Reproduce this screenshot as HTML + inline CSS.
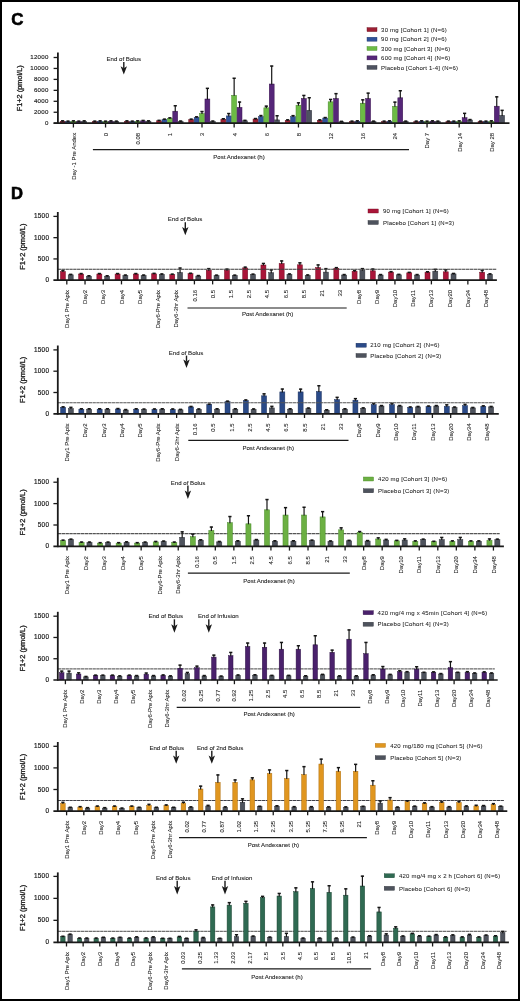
<!DOCTYPE html>
<html><head><meta charset="utf-8"><title>F1+2 charts</title>
<style>html,body{margin:0;padding:0;background:#fff;}#wrap{position:relative;width:520px;height:1001px;overflow:hidden;background:#fff;}svg{position:absolute;left:0;top:0;display:block;filter:blur(0.3px);}text{font-family:"Liberation Sans", sans-serif;stroke:#222;stroke-width:0.08px;}</style></head><body><div id="wrap">
<svg width="520" height="1001" viewBox="0 0 520 1001" font-family='"Liberation Sans", sans-serif'>
<rect x="0" y="0" width="520" height="1001" fill="#fff"/>
<text x="11.3" y="25.3" font-size="16.9" text-anchor="start" font-weight="bold" fill="#000" style="stroke:#000;stroke-width:0.55px">C</text>
<line x1="57.9" y1="52.5" x2="57.9" y2="124" stroke="#1a1a1a" stroke-width="1.8"/>
<line x1="53.6" y1="123.2" x2="57.9" y2="123.2" stroke="#1a1a1a" stroke-width="1.3"/>
<text x="48.7" y="124.9" font-size="6.1" text-anchor="end" fill="#1a1a1a" letter-spacing="0.3" style="stroke-width:0.15px">0</text>
<line x1="53.6" y1="112.25" x2="57.9" y2="112.25" stroke="#1a1a1a" stroke-width="1.3"/>
<text x="48.7" y="113.95" font-size="6.1" text-anchor="end" fill="#1a1a1a" letter-spacing="0.3" style="stroke-width:0.15px">2000</text>
<line x1="53.6" y1="101.3" x2="57.9" y2="101.3" stroke="#1a1a1a" stroke-width="1.3"/>
<text x="48.7" y="103" font-size="6.1" text-anchor="end" fill="#1a1a1a" letter-spacing="0.3" style="stroke-width:0.15px">4000</text>
<line x1="53.6" y1="90.35" x2="57.9" y2="90.35" stroke="#1a1a1a" stroke-width="1.3"/>
<text x="48.7" y="92.05" font-size="6.1" text-anchor="end" fill="#1a1a1a" letter-spacing="0.3" style="stroke-width:0.15px">6000</text>
<line x1="53.6" y1="79.4" x2="57.9" y2="79.4" stroke="#1a1a1a" stroke-width="1.3"/>
<text x="48.7" y="81.1" font-size="6.1" text-anchor="end" fill="#1a1a1a" letter-spacing="0.3" style="stroke-width:0.15px">8000</text>
<line x1="53.6" y1="68.45" x2="57.9" y2="68.45" stroke="#1a1a1a" stroke-width="1.3"/>
<text x="48.7" y="70.15" font-size="6.1" text-anchor="end" fill="#1a1a1a" letter-spacing="0.3" style="stroke-width:0.15px">10000</text>
<line x1="53.6" y1="57.5" x2="57.9" y2="57.5" stroke="#1a1a1a" stroke-width="1.3"/>
<text x="48.7" y="59.2" font-size="6.1" text-anchor="end" fill="#1a1a1a" letter-spacing="0.3" style="stroke-width:0.15px">12000</text>
<text x="22.3" y="88.3" font-size="7.35" text-anchor="middle" transform="rotate(-90 22.3 88.3)" fill="#1a1a1a" style="stroke-width:0.3px">F1+2 (pmol/L)</text>
<rect x="60.15" y="121.3" width="4.9" height="1.9" fill="#9d1f33" stroke="#6a1020" stroke-width="0.5"/>
<rect x="65.55" y="121.6" width="4.9" height="1.6" fill="#30529a" stroke="#22386a" stroke-width="0.5"/>
<rect x="70.95" y="121.3" width="4.9" height="1.9" fill="#6cbb45" stroke="#4a8a2c" stroke-width="0.5"/>
<rect x="76.35" y="121.6" width="4.9" height="1.6" fill="#562679" stroke="#3a144f" stroke-width="0.5"/>
<rect x="81.75" y="121.3" width="4.9" height="1.9" fill="#4e5260" stroke="#33363f" stroke-width="0.5"/>
<line x1="62.6" y1="121.8" x2="62.6" y2="120.5" stroke="#151515" stroke-width="1.2"/>
<rect x="61" y="120.1" width="3.2" height="1.5" fill="#151515"/>
<line x1="68" y1="122.1" x2="68" y2="120.8" stroke="#151515" stroke-width="1.2"/>
<rect x="66.4" y="120.4" width="3.2" height="1.5" fill="#151515"/>
<line x1="73.4" y1="121.8" x2="73.4" y2="120.5" stroke="#151515" stroke-width="1.2"/>
<rect x="71.8" y="120.1" width="3.2" height="1.5" fill="#151515"/>
<line x1="78.8" y1="122.1" x2="78.8" y2="120.8" stroke="#151515" stroke-width="1.2"/>
<rect x="77.2" y="120.4" width="3.2" height="1.5" fill="#151515"/>
<line x1="84.2" y1="121.8" x2="84.2" y2="120.5" stroke="#151515" stroke-width="1.2"/>
<rect x="82.6" y="120.1" width="3.2" height="1.5" fill="#151515"/>
<rect x="92.3" y="121.6" width="4.9" height="1.6" fill="#9d1f33" stroke="#6a1020" stroke-width="0.5"/>
<rect x="97.7" y="121.3" width="4.9" height="1.9" fill="#30529a" stroke="#22386a" stroke-width="0.5"/>
<rect x="103.1" y="121.6" width="4.9" height="1.6" fill="#6cbb45" stroke="#4a8a2c" stroke-width="0.5"/>
<rect x="108.5" y="121.3" width="4.9" height="1.9" fill="#562679" stroke="#3a144f" stroke-width="0.5"/>
<rect x="113.9" y="121.6" width="4.9" height="1.6" fill="#4e5260" stroke="#33363f" stroke-width="0.5"/>
<line x1="94.75" y1="122.1" x2="94.75" y2="120.8" stroke="#151515" stroke-width="1.2"/>
<rect x="93.15" y="120.4" width="3.2" height="1.5" fill="#151515"/>
<line x1="100.15" y1="121.8" x2="100.15" y2="120.5" stroke="#151515" stroke-width="1.2"/>
<rect x="98.55" y="120.1" width="3.2" height="1.5" fill="#151515"/>
<line x1="105.55" y1="122.1" x2="105.55" y2="120.8" stroke="#151515" stroke-width="1.2"/>
<rect x="103.95" y="120.4" width="3.2" height="1.5" fill="#151515"/>
<line x1="110.95" y1="121.8" x2="110.95" y2="120.5" stroke="#151515" stroke-width="1.2"/>
<rect x="109.35" y="120.1" width="3.2" height="1.5" fill="#151515"/>
<line x1="116.35" y1="122.1" x2="116.35" y2="120.8" stroke="#151515" stroke-width="1.2"/>
<rect x="114.75" y="120.4" width="3.2" height="1.5" fill="#151515"/>
<rect x="124.45" y="121.3" width="4.9" height="1.9" fill="#9d1f33" stroke="#6a1020" stroke-width="0.5"/>
<rect x="129.85" y="121.6" width="4.9" height="1.6" fill="#30529a" stroke="#22386a" stroke-width="0.5"/>
<rect x="135.25" y="121.3" width="4.9" height="1.9" fill="#6cbb45" stroke="#4a8a2c" stroke-width="0.5"/>
<rect x="140.65" y="120.9" width="4.9" height="2.3" fill="#562679" stroke="#3a144f" stroke-width="0.5"/>
<rect x="146.05" y="121.3" width="4.9" height="1.9" fill="#4e5260" stroke="#33363f" stroke-width="0.5"/>
<line x1="126.9" y1="121.8" x2="126.9" y2="120.5" stroke="#151515" stroke-width="1.2"/>
<rect x="125.3" y="120.1" width="3.2" height="1.5" fill="#151515"/>
<line x1="132.3" y1="122.1" x2="132.3" y2="120.8" stroke="#151515" stroke-width="1.2"/>
<rect x="130.7" y="120.4" width="3.2" height="1.5" fill="#151515"/>
<line x1="137.7" y1="121.8" x2="137.7" y2="120.5" stroke="#151515" stroke-width="1.2"/>
<rect x="136.1" y="120.1" width="3.2" height="1.5" fill="#151515"/>
<line x1="143.1" y1="121.4" x2="143.1" y2="120.1" stroke="#151515" stroke-width="1.2"/>
<rect x="141.5" y="119.7" width="3.2" height="1.5" fill="#151515"/>
<line x1="148.5" y1="121.8" x2="148.5" y2="120.5" stroke="#151515" stroke-width="1.2"/>
<rect x="146.9" y="120.1" width="3.2" height="1.5" fill="#151515"/>
<rect x="156.6" y="120.8" width="4.9" height="2.4" fill="#9d1f33" stroke="#6a1020" stroke-width="0.5"/>
<rect x="162" y="119.6" width="4.9" height="3.6" fill="#30529a" stroke="#22386a" stroke-width="0.5"/>
<rect x="167.4" y="118.3" width="4.9" height="4.9" fill="#6cbb45" stroke="#4a8a2c" stroke-width="0.5"/>
<rect x="172.8" y="111.2" width="4.9" height="12" fill="#562679" stroke="#3a144f" stroke-width="0.5"/>
<rect x="178.2" y="121.5" width="4.9" height="1.7" fill="#4e5260" stroke="#33363f" stroke-width="0.5"/>
<line x1="159.05" y1="121.3" x2="159.05" y2="120" stroke="#151515" stroke-width="1.2"/>
<rect x="157.45" y="119.6" width="3.2" height="1.5" fill="#151515"/>
<line x1="164.45" y1="120.1" x2="164.45" y2="118.8" stroke="#151515" stroke-width="1.2"/>
<rect x="162.85" y="118.4" width="3.2" height="1.5" fill="#151515"/>
<line x1="169.85" y1="118.8" x2="169.85" y2="117.5" stroke="#151515" stroke-width="1.2"/>
<rect x="168.25" y="117.1" width="3.2" height="1.5" fill="#151515"/>
<line x1="175.25" y1="111.7" x2="175.25" y2="105.4" stroke="#151515" stroke-width="1.2"/>
<rect x="173.65" y="105" width="3.2" height="1.5" fill="#151515"/>
<line x1="180.65" y1="122" x2="180.65" y2="120.7" stroke="#151515" stroke-width="1.2"/>
<rect x="179.05" y="120.3" width="3.2" height="1.5" fill="#151515"/>
<rect x="188.75" y="119.6" width="4.9" height="3.6" fill="#9d1f33" stroke="#6a1020" stroke-width="0.5"/>
<rect x="194.15" y="117.3" width="4.9" height="5.9" fill="#30529a" stroke="#22386a" stroke-width="0.5"/>
<rect x="199.55" y="113.5" width="4.9" height="9.7" fill="#6cbb45" stroke="#4a8a2c" stroke-width="0.5"/>
<rect x="204.95" y="99" width="4.9" height="24.2" fill="#562679" stroke="#3a144f" stroke-width="0.5"/>
<rect x="210.35" y="121.5" width="4.9" height="1.7" fill="#4e5260" stroke="#33363f" stroke-width="0.5"/>
<line x1="191.2" y1="120.1" x2="191.2" y2="118.8" stroke="#151515" stroke-width="1.2"/>
<rect x="189.6" y="118.4" width="3.2" height="1.5" fill="#151515"/>
<line x1="196.6" y1="117.8" x2="196.6" y2="116.5" stroke="#151515" stroke-width="1.2"/>
<rect x="195" y="116.1" width="3.2" height="1.5" fill="#151515"/>
<line x1="202" y1="114" x2="202" y2="111.2" stroke="#151515" stroke-width="1.2"/>
<rect x="200.4" y="110.8" width="3.2" height="1.5" fill="#151515"/>
<line x1="207.4" y1="99.5" x2="207.4" y2="88" stroke="#151515" stroke-width="1.2"/>
<rect x="205.8" y="87.6" width="3.2" height="1.5" fill="#151515"/>
<line x1="212.8" y1="122" x2="212.8" y2="120.7" stroke="#151515" stroke-width="1.2"/>
<rect x="211.2" y="120.3" width="3.2" height="1.5" fill="#151515"/>
<rect x="220.9" y="119.2" width="4.9" height="4" fill="#9d1f33" stroke="#6a1020" stroke-width="0.5"/>
<rect x="226.3" y="115.9" width="4.9" height="7.3" fill="#30529a" stroke="#22386a" stroke-width="0.5"/>
<rect x="231.7" y="95.3" width="4.9" height="27.9" fill="#6cbb45" stroke="#4a8a2c" stroke-width="0.5"/>
<rect x="237.1" y="107.4" width="4.9" height="15.8" fill="#562679" stroke="#3a144f" stroke-width="0.5"/>
<rect x="242.5" y="120.8" width="4.9" height="2.4" fill="#4e5260" stroke="#33363f" stroke-width="0.5"/>
<line x1="223.35" y1="119.7" x2="223.35" y2="118.4" stroke="#151515" stroke-width="1.2"/>
<rect x="221.75" y="118" width="3.2" height="1.5" fill="#151515"/>
<line x1="228.75" y1="116.4" x2="228.75" y2="113.2" stroke="#151515" stroke-width="1.2"/>
<rect x="227.15" y="112.8" width="3.2" height="1.5" fill="#151515"/>
<line x1="234.15" y1="95.8" x2="234.15" y2="77.9" stroke="#151515" stroke-width="1.2"/>
<rect x="232.55" y="77.5" width="3.2" height="1.5" fill="#151515"/>
<line x1="239.55" y1="107.9" x2="239.55" y2="101.7" stroke="#151515" stroke-width="1.2"/>
<rect x="237.95" y="101.3" width="3.2" height="1.5" fill="#151515"/>
<line x1="244.95" y1="121.3" x2="244.95" y2="120" stroke="#151515" stroke-width="1.2"/>
<rect x="243.35" y="119.6" width="3.2" height="1.5" fill="#151515"/>
<rect x="253.05" y="119" width="4.9" height="4.2" fill="#9d1f33" stroke="#6a1020" stroke-width="0.5"/>
<rect x="258.45" y="116.5" width="4.9" height="6.7" fill="#30529a" stroke="#22386a" stroke-width="0.5"/>
<rect x="263.85" y="107.8" width="4.9" height="15.4" fill="#6cbb45" stroke="#4a8a2c" stroke-width="0.5"/>
<rect x="269.25" y="84" width="4.9" height="39.2" fill="#562679" stroke="#3a144f" stroke-width="0.5"/>
<rect x="274.65" y="119.9" width="4.9" height="3.3" fill="#4e5260" stroke="#33363f" stroke-width="0.5"/>
<line x1="255.5" y1="119.5" x2="255.5" y2="118.2" stroke="#151515" stroke-width="1.2"/>
<rect x="253.9" y="117.8" width="3.2" height="1.5" fill="#151515"/>
<line x1="260.9" y1="117" x2="260.9" y2="115.2" stroke="#151515" stroke-width="1.2"/>
<rect x="259.3" y="114.8" width="3.2" height="1.5" fill="#151515"/>
<line x1="266.3" y1="108.3" x2="266.3" y2="105.8" stroke="#151515" stroke-width="1.2"/>
<rect x="264.7" y="105.4" width="3.2" height="1.5" fill="#151515"/>
<line x1="271.7" y1="84.5" x2="271.7" y2="65.7" stroke="#151515" stroke-width="1.2"/>
<rect x="270.1" y="65.3" width="3.2" height="1.5" fill="#151515"/>
<line x1="277.1" y1="120.4" x2="277.1" y2="115.4" stroke="#151515" stroke-width="1.2"/>
<rect x="275.5" y="115" width="3.2" height="1.5" fill="#151515"/>
<rect x="285.2" y="120.3" width="4.9" height="2.9" fill="#9d1f33" stroke="#6a1020" stroke-width="0.5"/>
<rect x="290.6" y="116.6" width="4.9" height="6.6" fill="#30529a" stroke="#22386a" stroke-width="0.5"/>
<rect x="296" y="105.2" width="4.9" height="18" fill="#6cbb45" stroke="#4a8a2c" stroke-width="0.5"/>
<rect x="301.4" y="98.5" width="4.9" height="24.7" fill="#562679" stroke="#3a144f" stroke-width="0.5"/>
<rect x="306.8" y="110.3" width="4.9" height="12.9" fill="#4e5260" stroke="#33363f" stroke-width="0.5"/>
<line x1="287.65" y1="120.8" x2="287.65" y2="119.5" stroke="#151515" stroke-width="1.2"/>
<rect x="286.05" y="119.1" width="3.2" height="1.5" fill="#151515"/>
<line x1="293.05" y1="117.1" x2="293.05" y2="115.3" stroke="#151515" stroke-width="1.2"/>
<rect x="291.45" y="114.9" width="3.2" height="1.5" fill="#151515"/>
<line x1="298.45" y1="105.7" x2="298.45" y2="102.5" stroke="#151515" stroke-width="1.2"/>
<rect x="296.85" y="102.1" width="3.2" height="1.5" fill="#151515"/>
<line x1="303.85" y1="99" x2="303.85" y2="95.1" stroke="#151515" stroke-width="1.2"/>
<rect x="302.25" y="94.7" width="3.2" height="1.5" fill="#151515"/>
<line x1="309.25" y1="110.8" x2="309.25" y2="97.4" stroke="#151515" stroke-width="1.2"/>
<rect x="307.65" y="97" width="3.2" height="1.5" fill="#151515"/>
<rect x="317.35" y="120.3" width="4.9" height="2.9" fill="#9d1f33" stroke="#6a1020" stroke-width="0.5"/>
<rect x="322.75" y="118" width="4.9" height="5.2" fill="#30529a" stroke="#22386a" stroke-width="0.5"/>
<rect x="328.15" y="101.8" width="4.9" height="21.4" fill="#6cbb45" stroke="#4a8a2c" stroke-width="0.5"/>
<rect x="333.55" y="98.5" width="4.9" height="24.7" fill="#562679" stroke="#3a144f" stroke-width="0.5"/>
<rect x="338.95" y="121.8" width="4.9" height="1.4" fill="#4e5260" stroke="#33363f" stroke-width="0.5"/>
<line x1="319.8" y1="120.8" x2="319.8" y2="119.5" stroke="#151515" stroke-width="1.2"/>
<rect x="318.2" y="119.1" width="3.2" height="1.5" fill="#151515"/>
<line x1="325.2" y1="118.5" x2="325.2" y2="117.2" stroke="#151515" stroke-width="1.2"/>
<rect x="323.6" y="116.8" width="3.2" height="1.5" fill="#151515"/>
<line x1="330.6" y1="102.3" x2="330.6" y2="99.1" stroke="#151515" stroke-width="1.2"/>
<rect x="329" y="98.7" width="3.2" height="1.5" fill="#151515"/>
<line x1="336" y1="99" x2="336" y2="93.3" stroke="#151515" stroke-width="1.2"/>
<rect x="334.4" y="92.9" width="3.2" height="1.5" fill="#151515"/>
<line x1="341.4" y1="122.3" x2="341.4" y2="121" stroke="#151515" stroke-width="1.2"/>
<rect x="339.8" y="120.6" width="3.2" height="1.5" fill="#151515"/>
<rect x="349.5" y="121.6" width="4.9" height="1.6" fill="#9d1f33" stroke="#6a1020" stroke-width="0.5"/>
<rect x="354.9" y="121.3" width="4.9" height="1.9" fill="#30529a" stroke="#22386a" stroke-width="0.5"/>
<rect x="360.3" y="103.2" width="4.9" height="20" fill="#6cbb45" stroke="#4a8a2c" stroke-width="0.5"/>
<rect x="365.7" y="98.5" width="4.9" height="24.7" fill="#562679" stroke="#3a144f" stroke-width="0.5"/>
<rect x="371.1" y="121.6" width="4.9" height="1.6" fill="#4e5260" stroke="#33363f" stroke-width="0.5"/>
<line x1="351.95" y1="122.1" x2="351.95" y2="120.8" stroke="#151515" stroke-width="1.2"/>
<rect x="350.35" y="120.4" width="3.2" height="1.5" fill="#151515"/>
<line x1="357.35" y1="121.8" x2="357.35" y2="120.5" stroke="#151515" stroke-width="1.2"/>
<rect x="355.75" y="120.1" width="3.2" height="1.5" fill="#151515"/>
<line x1="362.75" y1="103.7" x2="362.75" y2="99.5" stroke="#151515" stroke-width="1.2"/>
<rect x="361.15" y="99.1" width="3.2" height="1.5" fill="#151515"/>
<line x1="368.15" y1="99" x2="368.15" y2="92.8" stroke="#151515" stroke-width="1.2"/>
<rect x="366.55" y="92.4" width="3.2" height="1.5" fill="#151515"/>
<line x1="373.55" y1="122.1" x2="373.55" y2="120.8" stroke="#151515" stroke-width="1.2"/>
<rect x="371.95" y="120.4" width="3.2" height="1.5" fill="#151515"/>
<rect x="381.65" y="121.6" width="4.9" height="1.6" fill="#9d1f33" stroke="#6a1020" stroke-width="0.5"/>
<rect x="387.05" y="121.3" width="4.9" height="1.9" fill="#30529a" stroke="#22386a" stroke-width="0.5"/>
<rect x="392.45" y="106.3" width="4.9" height="16.9" fill="#6cbb45" stroke="#4a8a2c" stroke-width="0.5"/>
<rect x="397.85" y="97.8" width="4.9" height="25.4" fill="#562679" stroke="#3a144f" stroke-width="0.5"/>
<rect x="403.25" y="121.6" width="4.9" height="1.6" fill="#4e5260" stroke="#33363f" stroke-width="0.5"/>
<line x1="384.1" y1="122.1" x2="384.1" y2="120.8" stroke="#151515" stroke-width="1.2"/>
<rect x="382.5" y="120.4" width="3.2" height="1.5" fill="#151515"/>
<line x1="389.5" y1="121.8" x2="389.5" y2="120.5" stroke="#151515" stroke-width="1.2"/>
<rect x="387.9" y="120.1" width="3.2" height="1.5" fill="#151515"/>
<line x1="394.9" y1="106.8" x2="394.9" y2="101.8" stroke="#151515" stroke-width="1.2"/>
<rect x="393.3" y="101.4" width="3.2" height="1.5" fill="#151515"/>
<line x1="400.3" y1="98.3" x2="400.3" y2="90.4" stroke="#151515" stroke-width="1.2"/>
<rect x="398.7" y="90" width="3.2" height="1.5" fill="#151515"/>
<line x1="405.7" y1="122.1" x2="405.7" y2="120.8" stroke="#151515" stroke-width="1.2"/>
<rect x="404.1" y="120.4" width="3.2" height="1.5" fill="#151515"/>
<rect x="413.8" y="121.6" width="4.9" height="1.6" fill="#9d1f33" stroke="#6a1020" stroke-width="0.5"/>
<rect x="419.2" y="121.3" width="4.9" height="1.9" fill="#30529a" stroke="#22386a" stroke-width="0.5"/>
<rect x="424.6" y="121.6" width="4.9" height="1.6" fill="#6cbb45" stroke="#4a8a2c" stroke-width="0.5"/>
<rect x="430" y="121.3" width="4.9" height="1.9" fill="#562679" stroke="#3a144f" stroke-width="0.5"/>
<rect x="435.4" y="121.6" width="4.9" height="1.6" fill="#4e5260" stroke="#33363f" stroke-width="0.5"/>
<line x1="416.25" y1="122.1" x2="416.25" y2="120.8" stroke="#151515" stroke-width="1.2"/>
<rect x="414.65" y="120.4" width="3.2" height="1.5" fill="#151515"/>
<line x1="421.65" y1="121.8" x2="421.65" y2="120.5" stroke="#151515" stroke-width="1.2"/>
<rect x="420.05" y="120.1" width="3.2" height="1.5" fill="#151515"/>
<line x1="427.05" y1="122.1" x2="427.05" y2="120.8" stroke="#151515" stroke-width="1.2"/>
<rect x="425.45" y="120.4" width="3.2" height="1.5" fill="#151515"/>
<line x1="432.45" y1="121.8" x2="432.45" y2="120.5" stroke="#151515" stroke-width="1.2"/>
<rect x="430.85" y="120.1" width="3.2" height="1.5" fill="#151515"/>
<line x1="437.85" y1="122.1" x2="437.85" y2="120.8" stroke="#151515" stroke-width="1.2"/>
<rect x="436.25" y="120.4" width="3.2" height="1.5" fill="#151515"/>
<rect x="445.95" y="121.6" width="4.9" height="1.6" fill="#9d1f33" stroke="#6a1020" stroke-width="0.5"/>
<rect x="451.35" y="121.6" width="4.9" height="1.6" fill="#30529a" stroke="#22386a" stroke-width="0.5"/>
<rect x="456.75" y="121.3" width="4.9" height="1.9" fill="#6cbb45" stroke="#4a8a2c" stroke-width="0.5"/>
<rect x="462.15" y="117.7" width="4.9" height="5.5" fill="#562679" stroke="#3a144f" stroke-width="0.5"/>
<rect x="467.55" y="120" width="4.9" height="3.2" fill="#4e5260" stroke="#33363f" stroke-width="0.5"/>
<line x1="448.4" y1="122.1" x2="448.4" y2="120.8" stroke="#151515" stroke-width="1.2"/>
<rect x="446.8" y="120.4" width="3.2" height="1.5" fill="#151515"/>
<line x1="453.8" y1="122.1" x2="453.8" y2="120.8" stroke="#151515" stroke-width="1.2"/>
<rect x="452.2" y="120.4" width="3.2" height="1.5" fill="#151515"/>
<line x1="459.2" y1="121.8" x2="459.2" y2="120.5" stroke="#151515" stroke-width="1.2"/>
<rect x="457.6" y="120.1" width="3.2" height="1.5" fill="#151515"/>
<line x1="464.6" y1="118.2" x2="464.6" y2="113" stroke="#151515" stroke-width="1.2"/>
<rect x="463" y="112.6" width="3.2" height="1.5" fill="#151515"/>
<line x1="470" y1="120.5" x2="470" y2="119.2" stroke="#151515" stroke-width="1.2"/>
<rect x="468.4" y="118.8" width="3.2" height="1.5" fill="#151515"/>
<rect x="478.1" y="121.6" width="4.9" height="1.6" fill="#9d1f33" stroke="#6a1020" stroke-width="0.5"/>
<rect x="483.5" y="121.6" width="4.9" height="1.6" fill="#30529a" stroke="#22386a" stroke-width="0.5"/>
<rect x="488.9" y="121.3" width="4.9" height="1.9" fill="#6cbb45" stroke="#4a8a2c" stroke-width="0.5"/>
<rect x="494.3" y="106.2" width="4.9" height="17" fill="#562679" stroke="#3a144f" stroke-width="0.5"/>
<rect x="499.7" y="115.4" width="4.9" height="7.8" fill="#4e5260" stroke="#33363f" stroke-width="0.5"/>
<line x1="480.55" y1="122.1" x2="480.55" y2="120.8" stroke="#151515" stroke-width="1.2"/>
<rect x="478.95" y="120.4" width="3.2" height="1.5" fill="#151515"/>
<line x1="485.95" y1="122.1" x2="485.95" y2="120.8" stroke="#151515" stroke-width="1.2"/>
<rect x="484.35" y="120.4" width="3.2" height="1.5" fill="#151515"/>
<line x1="491.35" y1="121.8" x2="491.35" y2="120.5" stroke="#151515" stroke-width="1.2"/>
<rect x="489.75" y="120.1" width="3.2" height="1.5" fill="#151515"/>
<line x1="496.75" y1="106.7" x2="496.75" y2="96.5" stroke="#151515" stroke-width="1.2"/>
<rect x="495.15" y="96.1" width="3.2" height="1.5" fill="#151515"/>
<line x1="502.15" y1="115.9" x2="502.15" y2="110" stroke="#151515" stroke-width="1.2"/>
<rect x="500.55" y="109.6" width="3.2" height="1.5" fill="#151515"/>
<line x1="53.6" y1="123.2" x2="509.5" y2="123.2" stroke="#1a1a1a" stroke-width="1.7"/>
<line x1="73.4" y1="123.2" x2="73.4" y2="127.5" stroke="#1a1a1a" stroke-width="1.3"/>
<text x="75.8" y="132.8" font-size="6" text-anchor="end" transform="rotate(-90 75.8 132.8)" fill="#1a1a1a">Day -1 Pre Andex</text>
<line x1="105.55" y1="123.2" x2="105.55" y2="127.5" stroke="#1a1a1a" stroke-width="1.3"/>
<text x="107.95" y="132.8" font-size="6" text-anchor="end" transform="rotate(-90 107.95 132.8)" fill="#1a1a1a">0</text>
<line x1="137.7" y1="123.2" x2="137.7" y2="127.5" stroke="#1a1a1a" stroke-width="1.3"/>
<text x="140.1" y="132.8" font-size="6" text-anchor="end" transform="rotate(-90 140.1 132.8)" fill="#1a1a1a">0.08</text>
<line x1="169.85" y1="123.2" x2="169.85" y2="127.5" stroke="#1a1a1a" stroke-width="1.3"/>
<text x="172.25" y="132.8" font-size="6" text-anchor="end" transform="rotate(-90 172.25 132.8)" fill="#1a1a1a">1</text>
<line x1="202" y1="123.2" x2="202" y2="127.5" stroke="#1a1a1a" stroke-width="1.3"/>
<text x="204.4" y="132.8" font-size="6" text-anchor="end" transform="rotate(-90 204.4 132.8)" fill="#1a1a1a">3</text>
<line x1="234.15" y1="123.2" x2="234.15" y2="127.5" stroke="#1a1a1a" stroke-width="1.3"/>
<text x="236.55" y="132.8" font-size="6" text-anchor="end" transform="rotate(-90 236.55 132.8)" fill="#1a1a1a">4</text>
<line x1="266.3" y1="123.2" x2="266.3" y2="127.5" stroke="#1a1a1a" stroke-width="1.3"/>
<text x="268.7" y="132.8" font-size="6" text-anchor="end" transform="rotate(-90 268.7 132.8)" fill="#1a1a1a">6</text>
<line x1="298.45" y1="123.2" x2="298.45" y2="127.5" stroke="#1a1a1a" stroke-width="1.3"/>
<text x="300.85" y="132.8" font-size="6" text-anchor="end" transform="rotate(-90 300.85 132.8)" fill="#1a1a1a">8</text>
<line x1="330.6" y1="123.2" x2="330.6" y2="127.5" stroke="#1a1a1a" stroke-width="1.3"/>
<text x="333" y="132.8" font-size="6" text-anchor="end" transform="rotate(-90 333 132.8)" fill="#1a1a1a">12</text>
<line x1="362.75" y1="123.2" x2="362.75" y2="127.5" stroke="#1a1a1a" stroke-width="1.3"/>
<text x="365.15" y="132.8" font-size="6" text-anchor="end" transform="rotate(-90 365.15 132.8)" fill="#1a1a1a">16</text>
<line x1="394.9" y1="123.2" x2="394.9" y2="127.5" stroke="#1a1a1a" stroke-width="1.3"/>
<text x="397.3" y="132.8" font-size="6" text-anchor="end" transform="rotate(-90 397.3 132.8)" fill="#1a1a1a">24</text>
<line x1="427.05" y1="123.2" x2="427.05" y2="127.5" stroke="#1a1a1a" stroke-width="1.3"/>
<text x="429.45" y="132.8" font-size="6" text-anchor="end" transform="rotate(-90 429.45 132.8)" fill="#1a1a1a">Day 7</text>
<line x1="459.2" y1="123.2" x2="459.2" y2="127.5" stroke="#1a1a1a" stroke-width="1.3"/>
<text x="461.6" y="132.8" font-size="6" text-anchor="end" transform="rotate(-90 461.6 132.8)" fill="#1a1a1a">Day 14</text>
<line x1="491.35" y1="123.2" x2="491.35" y2="127.5" stroke="#1a1a1a" stroke-width="1.3"/>
<text x="493.75" y="132.8" font-size="6" text-anchor="end" transform="rotate(-90 493.75 132.8)" fill="#1a1a1a">Day 28</text>
<line x1="92.9" y1="149.6" x2="409" y2="149.6" stroke="#1a1a1a" stroke-width="1.2"/>
<text x="239" y="159" font-size="6.05" text-anchor="middle" fill="#1a1a1a">Post Andexanet (h)</text>
<text x="106.5" y="60.6" font-size="6.1" text-anchor="start" fill="#1a1a1a">End of Bolus</text>
<line x1="123.8" y1="62" x2="123.8" y2="68.2" stroke="#1a1a1a" stroke-width="1.4"/>
<path d="M120.6 66.2 L123.8 68.2 L127 66.2 L123.8 74.6 Z" fill="#1a1a1a"/>
<rect x="367" y="27.6" width="10" height="4" fill="#9d1f33" stroke="#6a1020" stroke-width="0.4"/>
<text x="381.1" y="31.8" font-size="6" text-anchor="start" fill="#1a1a1a" letter-spacing="0.2" style="stroke-width:0.05px">30 mg [Cohort 1] (N=6)</text>
<rect x="367" y="37.2" width="10" height="4" fill="#30529a" stroke="#22386a" stroke-width="0.4"/>
<text x="381.1" y="41.4" font-size="6" text-anchor="start" fill="#1a1a1a" letter-spacing="0.2" style="stroke-width:0.05px">90 mg [Cohort 2] (N=6)</text>
<rect x="367" y="46.5" width="10" height="4" fill="#6cbb45" stroke="#4a8a2c" stroke-width="0.4"/>
<text x="381.1" y="50.7" font-size="6" text-anchor="start" fill="#1a1a1a" letter-spacing="0.2" style="stroke-width:0.05px">300 mg [Cohort 3] (N=6)</text>
<rect x="367" y="55.9" width="10" height="4" fill="#562679" stroke="#3a144f" stroke-width="0.4"/>
<text x="381.1" y="60.1" font-size="6" text-anchor="start" fill="#1a1a1a" letter-spacing="0.2" style="stroke-width:0.05px">600 mg [Cohort 4] (N=6)</text>
<rect x="367" y="65.4" width="10" height="4" fill="#4e5260" stroke="#33363f" stroke-width="0.4"/>
<text x="381.1" y="69.6" font-size="6" text-anchor="start" fill="#1a1a1a" letter-spacing="0.2" style="stroke-width:0.05px">Placebo [Cohort 1-4] (N=6)</text>
<text x="11.1" y="198.8" font-size="16.6" text-anchor="start" font-weight="bold" fill="#000" style="stroke:#000;stroke-width:0.6px">D</text>
<rect x="60.4" y="271.5" width="5" height="8.7" fill="#aa1539" stroke="#700c22" stroke-width="0.5"/>
<line x1="62.9" y1="272" x2="62.9" y2="270.2" stroke="#151515" stroke-width="1.2"/>
<rect x="61.3" y="269.8" width="3.2" height="1.5" fill="#151515"/>
<rect x="68.2" y="274.8" width="5" height="5.4" fill="#4e535d" stroke="#30333a" stroke-width="0.5"/>
<line x1="70.7" y1="275.3" x2="70.7" y2="274" stroke="#151515" stroke-width="1.2"/>
<rect x="69.1" y="273.6" width="3.2" height="1.5" fill="#151515"/>
<rect x="78.63" y="274" width="5" height="6.2" fill="#aa1539" stroke="#700c22" stroke-width="0.5"/>
<line x1="81.13" y1="274.5" x2="81.13" y2="273.2" stroke="#151515" stroke-width="1.2"/>
<rect x="79.53" y="272.8" width="3.2" height="1.5" fill="#151515"/>
<rect x="86.43" y="276.2" width="5" height="4" fill="#4e535d" stroke="#30333a" stroke-width="0.5"/>
<line x1="88.93" y1="276.7" x2="88.93" y2="275.4" stroke="#151515" stroke-width="1.2"/>
<rect x="87.33" y="275" width="3.2" height="1.5" fill="#151515"/>
<rect x="96.86" y="274" width="5" height="6.2" fill="#aa1539" stroke="#700c22" stroke-width="0.5"/>
<line x1="99.36" y1="274.5" x2="99.36" y2="273.2" stroke="#151515" stroke-width="1.2"/>
<rect x="97.76" y="272.8" width="3.2" height="1.5" fill="#151515"/>
<rect x="104.66" y="276.2" width="5" height="4" fill="#4e535d" stroke="#30333a" stroke-width="0.5"/>
<line x1="107.16" y1="276.7" x2="107.16" y2="275.4" stroke="#151515" stroke-width="1.2"/>
<rect x="105.56" y="275" width="3.2" height="1.5" fill="#151515"/>
<rect x="115.09" y="274" width="5" height="6.2" fill="#aa1539" stroke="#700c22" stroke-width="0.5"/>
<line x1="117.59" y1="274.5" x2="117.59" y2="273.2" stroke="#151515" stroke-width="1.2"/>
<rect x="115.99" y="272.8" width="3.2" height="1.5" fill="#151515"/>
<rect x="122.89" y="275.5" width="5" height="4.7" fill="#4e535d" stroke="#30333a" stroke-width="0.5"/>
<line x1="125.39" y1="276" x2="125.39" y2="274.7" stroke="#151515" stroke-width="1.2"/>
<rect x="123.79" y="274.3" width="3.2" height="1.5" fill="#151515"/>
<rect x="133.32" y="274" width="5" height="6.2" fill="#aa1539" stroke="#700c22" stroke-width="0.5"/>
<line x1="135.82" y1="274.5" x2="135.82" y2="273.2" stroke="#151515" stroke-width="1.2"/>
<rect x="134.22" y="272.8" width="3.2" height="1.5" fill="#151515"/>
<rect x="141.12" y="275.5" width="5" height="4.7" fill="#4e535d" stroke="#30333a" stroke-width="0.5"/>
<line x1="143.62" y1="276" x2="143.62" y2="274.7" stroke="#151515" stroke-width="1.2"/>
<rect x="142.02" y="274.3" width="3.2" height="1.5" fill="#151515"/>
<rect x="151.55" y="273.8" width="5" height="6.4" fill="#aa1539" stroke="#700c22" stroke-width="0.5"/>
<line x1="154.05" y1="274.3" x2="154.05" y2="273" stroke="#151515" stroke-width="1.2"/>
<rect x="152.45" y="272.6" width="3.2" height="1.5" fill="#151515"/>
<rect x="159.35" y="274.4" width="5" height="5.8" fill="#4e535d" stroke="#30333a" stroke-width="0.5"/>
<line x1="161.85" y1="274.9" x2="161.85" y2="273.6" stroke="#151515" stroke-width="1.2"/>
<rect x="160.25" y="273.2" width="3.2" height="1.5" fill="#151515"/>
<rect x="169.78" y="274.6" width="5" height="5.6" fill="#aa1539" stroke="#700c22" stroke-width="0.5"/>
<line x1="172.28" y1="275.1" x2="172.28" y2="273.8" stroke="#151515" stroke-width="1.2"/>
<rect x="170.68" y="273.4" width="3.2" height="1.5" fill="#151515"/>
<rect x="177.58" y="272.5" width="5" height="7.7" fill="#4e535d" stroke="#30333a" stroke-width="0.5"/>
<line x1="180.08" y1="273" x2="180.08" y2="267.7" stroke="#151515" stroke-width="1.2"/>
<rect x="178.48" y="267.3" width="3.2" height="1.5" fill="#151515"/>
<rect x="188.01" y="273.7" width="5" height="6.5" fill="#aa1539" stroke="#700c22" stroke-width="0.5"/>
<line x1="190.51" y1="274.2" x2="190.51" y2="272.9" stroke="#151515" stroke-width="1.2"/>
<rect x="188.91" y="272.5" width="3.2" height="1.5" fill="#151515"/>
<rect x="195.81" y="276" width="5" height="4.2" fill="#4e535d" stroke="#30333a" stroke-width="0.5"/>
<line x1="198.31" y1="276.5" x2="198.31" y2="275.2" stroke="#151515" stroke-width="1.2"/>
<rect x="196.71" y="274.8" width="3.2" height="1.5" fill="#151515"/>
<rect x="206.24" y="270.2" width="5" height="10" fill="#aa1539" stroke="#700c22" stroke-width="0.5"/>
<line x1="208.74" y1="270.7" x2="208.74" y2="268.3" stroke="#151515" stroke-width="1.2"/>
<rect x="207.14" y="267.9" width="3.2" height="1.5" fill="#151515"/>
<rect x="214.04" y="275.6" width="5" height="4.6" fill="#4e535d" stroke="#30333a" stroke-width="0.5"/>
<line x1="216.54" y1="276.1" x2="216.54" y2="274.8" stroke="#151515" stroke-width="1.2"/>
<rect x="214.94" y="274.4" width="3.2" height="1.5" fill="#151515"/>
<rect x="224.47" y="270.2" width="5" height="10" fill="#aa1539" stroke="#700c22" stroke-width="0.5"/>
<line x1="226.97" y1="270.7" x2="226.97" y2="268.8" stroke="#151515" stroke-width="1.2"/>
<rect x="225.37" y="268.4" width="3.2" height="1.5" fill="#151515"/>
<rect x="232.27" y="275.6" width="5" height="4.6" fill="#4e535d" stroke="#30333a" stroke-width="0.5"/>
<line x1="234.77" y1="276.1" x2="234.77" y2="274.8" stroke="#151515" stroke-width="1.2"/>
<rect x="233.17" y="274.4" width="3.2" height="1.5" fill="#151515"/>
<rect x="242.7" y="267.9" width="5" height="12.3" fill="#aa1539" stroke="#700c22" stroke-width="0.5"/>
<line x1="245.2" y1="268.4" x2="245.2" y2="266.8" stroke="#151515" stroke-width="1.2"/>
<rect x="243.6" y="266.4" width="3.2" height="1.5" fill="#151515"/>
<rect x="250.5" y="274.6" width="5" height="5.6" fill="#4e535d" stroke="#30333a" stroke-width="0.5"/>
<line x1="253" y1="275.1" x2="253" y2="273.8" stroke="#151515" stroke-width="1.2"/>
<rect x="251.4" y="273.4" width="3.2" height="1.5" fill="#151515"/>
<rect x="260.93" y="265" width="5" height="15.2" fill="#aa1539" stroke="#700c22" stroke-width="0.5"/>
<line x1="263.43" y1="265.5" x2="263.43" y2="263.1" stroke="#151515" stroke-width="1.2"/>
<rect x="261.83" y="262.7" width="3.2" height="1.5" fill="#151515"/>
<rect x="268.73" y="272.7" width="5" height="7.5" fill="#4e535d" stroke="#30333a" stroke-width="0.5"/>
<line x1="271.23" y1="273.2" x2="271.23" y2="269.6" stroke="#151515" stroke-width="1.2"/>
<rect x="269.63" y="269.2" width="3.2" height="1.5" fill="#151515"/>
<rect x="279.16" y="263.5" width="5" height="16.7" fill="#aa1539" stroke="#700c22" stroke-width="0.5"/>
<line x1="281.66" y1="264" x2="281.66" y2="260.6" stroke="#151515" stroke-width="1.2"/>
<rect x="280.06" y="260.2" width="3.2" height="1.5" fill="#151515"/>
<rect x="286.96" y="274.4" width="5" height="5.8" fill="#4e535d" stroke="#30333a" stroke-width="0.5"/>
<line x1="289.46" y1="274.9" x2="289.46" y2="273.6" stroke="#151515" stroke-width="1.2"/>
<rect x="287.86" y="273.2" width="3.2" height="1.5" fill="#151515"/>
<rect x="297.39" y="264.8" width="5" height="15.4" fill="#aa1539" stroke="#700c22" stroke-width="0.5"/>
<line x1="299.89" y1="265.3" x2="299.89" y2="262.5" stroke="#151515" stroke-width="1.2"/>
<rect x="298.29" y="262.1" width="3.2" height="1.5" fill="#151515"/>
<rect x="305.19" y="275.4" width="5" height="4.8" fill="#4e535d" stroke="#30333a" stroke-width="0.5"/>
<line x1="307.69" y1="275.9" x2="307.69" y2="274.6" stroke="#151515" stroke-width="1.2"/>
<rect x="306.09" y="274.2" width="3.2" height="1.5" fill="#151515"/>
<rect x="315.62" y="267.5" width="5" height="12.7" fill="#aa1539" stroke="#700c22" stroke-width="0.5"/>
<line x1="318.12" y1="268" x2="318.12" y2="264.6" stroke="#151515" stroke-width="1.2"/>
<rect x="316.52" y="264.2" width="3.2" height="1.5" fill="#151515"/>
<rect x="323.42" y="272.1" width="5" height="8.1" fill="#4e535d" stroke="#30333a" stroke-width="0.5"/>
<line x1="325.92" y1="272.6" x2="325.92" y2="268.3" stroke="#151515" stroke-width="1.2"/>
<rect x="324.32" y="267.9" width="3.2" height="1.5" fill="#151515"/>
<rect x="333.85" y="268.3" width="5" height="11.9" fill="#aa1539" stroke="#700c22" stroke-width="0.5"/>
<line x1="336.35" y1="268.8" x2="336.35" y2="267.3" stroke="#151515" stroke-width="1.2"/>
<rect x="334.75" y="266.9" width="3.2" height="1.5" fill="#151515"/>
<rect x="341.65" y="275" width="5" height="5.2" fill="#4e535d" stroke="#30333a" stroke-width="0.5"/>
<line x1="344.15" y1="275.5" x2="344.15" y2="274.2" stroke="#151515" stroke-width="1.2"/>
<rect x="342.55" y="273.8" width="3.2" height="1.5" fill="#151515"/>
<rect x="352.08" y="271.2" width="5" height="9" fill="#aa1539" stroke="#700c22" stroke-width="0.5"/>
<line x1="354.58" y1="271.7" x2="354.58" y2="270.2" stroke="#151515" stroke-width="1.2"/>
<rect x="352.98" y="269.8" width="3.2" height="1.5" fill="#151515"/>
<rect x="359.88" y="270.2" width="5" height="10" fill="#4e535d" stroke="#30333a" stroke-width="0.5"/>
<line x1="362.38" y1="270.7" x2="362.38" y2="268.3" stroke="#151515" stroke-width="1.2"/>
<rect x="360.78" y="267.9" width="3.2" height="1.5" fill="#151515"/>
<rect x="370.31" y="270.8" width="5" height="9.4" fill="#aa1539" stroke="#700c22" stroke-width="0.5"/>
<line x1="372.81" y1="271.3" x2="372.81" y2="268.7" stroke="#151515" stroke-width="1.2"/>
<rect x="371.21" y="268.3" width="3.2" height="1.5" fill="#151515"/>
<rect x="378.11" y="275" width="5" height="5.2" fill="#4e535d" stroke="#30333a" stroke-width="0.5"/>
<line x1="380.61" y1="275.5" x2="380.61" y2="274.2" stroke="#151515" stroke-width="1.2"/>
<rect x="379.01" y="273.8" width="3.2" height="1.5" fill="#151515"/>
<rect x="388.54" y="272.1" width="5" height="8.1" fill="#aa1539" stroke="#700c22" stroke-width="0.5"/>
<line x1="391.04" y1="272.6" x2="391.04" y2="271.3" stroke="#151515" stroke-width="1.2"/>
<rect x="389.44" y="270.9" width="3.2" height="1.5" fill="#151515"/>
<rect x="396.34" y="274.8" width="5" height="5.4" fill="#4e535d" stroke="#30333a" stroke-width="0.5"/>
<line x1="398.84" y1="275.3" x2="398.84" y2="274" stroke="#151515" stroke-width="1.2"/>
<rect x="397.24" y="273.6" width="3.2" height="1.5" fill="#151515"/>
<rect x="406.77" y="272.8" width="5" height="7.4" fill="#aa1539" stroke="#700c22" stroke-width="0.5"/>
<line x1="409.27" y1="273.3" x2="409.27" y2="272" stroke="#151515" stroke-width="1.2"/>
<rect x="407.67" y="271.6" width="3.2" height="1.5" fill="#151515"/>
<rect x="414.57" y="275" width="5" height="5.2" fill="#4e535d" stroke="#30333a" stroke-width="0.5"/>
<line x1="417.07" y1="275.5" x2="417.07" y2="274.2" stroke="#151515" stroke-width="1.2"/>
<rect x="415.47" y="273.8" width="3.2" height="1.5" fill="#151515"/>
<rect x="425" y="272.2" width="5" height="8" fill="#aa1539" stroke="#700c22" stroke-width="0.5"/>
<line x1="427.5" y1="272.7" x2="427.5" y2="271.4" stroke="#151515" stroke-width="1.2"/>
<rect x="425.9" y="271" width="3.2" height="1.5" fill="#151515"/>
<rect x="432.8" y="271.2" width="5" height="9" fill="#4e535d" stroke="#30333a" stroke-width="0.5"/>
<line x1="435.3" y1="271.7" x2="435.3" y2="269" stroke="#151515" stroke-width="1.2"/>
<rect x="433.7" y="268.6" width="3.2" height="1.5" fill="#151515"/>
<rect x="443.23" y="271.8" width="5" height="8.4" fill="#aa1539" stroke="#700c22" stroke-width="0.5"/>
<line x1="445.73" y1="272.3" x2="445.73" y2="269.5" stroke="#151515" stroke-width="1.2"/>
<rect x="444.13" y="269.1" width="3.2" height="1.5" fill="#151515"/>
<rect x="451.03" y="273.9" width="5" height="6.3" fill="#4e535d" stroke="#30333a" stroke-width="0.5"/>
<line x1="453.53" y1="274.4" x2="453.53" y2="273.1" stroke="#151515" stroke-width="1.2"/>
<rect x="451.93" y="272.7" width="3.2" height="1.5" fill="#151515"/>
<rect x="479.69" y="272.2" width="5" height="8" fill="#aa1539" stroke="#700c22" stroke-width="0.5"/>
<line x1="482.19" y1="272.7" x2="482.19" y2="270.1" stroke="#151515" stroke-width="1.2"/>
<rect x="480.59" y="269.7" width="3.2" height="1.5" fill="#151515"/>
<rect x="487.49" y="274.3" width="5" height="5.9" fill="#4e535d" stroke="#30333a" stroke-width="0.5"/>
<line x1="489.99" y1="274.8" x2="489.99" y2="273.5" stroke="#151515" stroke-width="1.2"/>
<rect x="488.39" y="273.1" width="3.2" height="1.5" fill="#151515"/>
<line x1="57.8" y1="269.3" x2="496.5" y2="269.3" stroke="#3a3a3a" stroke-width="1.1" stroke-dasharray="3.4,0.45"/>
<line x1="57.8" y1="212" x2="57.8" y2="281" stroke="#1a1a1a" stroke-width="1.8"/>
<line x1="53.4" y1="258.93" x2="57.8" y2="258.93" stroke="#1a1a1a" stroke-width="1.3"/>
<line x1="53.4" y1="237.67" x2="57.8" y2="237.67" stroke="#1a1a1a" stroke-width="1.3"/>
<line x1="53.4" y1="216.4" x2="57.8" y2="216.4" stroke="#1a1a1a" stroke-width="1.3"/>
<text x="49.2" y="282.2" font-size="6.35" text-anchor="end" fill="#1a1a1a" letter-spacing="0.25" style="stroke-width:0.2px">0</text>
<text x="49.2" y="260.93" font-size="6.35" text-anchor="end" fill="#1a1a1a" letter-spacing="0.25" style="stroke-width:0.2px">500</text>
<text x="49.2" y="239.67" font-size="6.35" text-anchor="end" fill="#1a1a1a" letter-spacing="0.25" style="stroke-width:0.2px">1000</text>
<text x="49.2" y="218.4" font-size="6.35" text-anchor="end" fill="#1a1a1a" letter-spacing="0.25" style="stroke-width:0.2px">1500</text>
<line x1="53.4" y1="280.2" x2="496.9" y2="280.2" stroke="#1a1a1a" stroke-width="1.7"/>
<line x1="66.8" y1="280.2" x2="66.8" y2="284.4" stroke="#1a1a1a" stroke-width="1.3"/>
<text x="68.9" y="289.9" font-size="6" text-anchor="end" transform="rotate(-90 68.9 289.9)" fill="#1a1a1a">Day1 Pre Apix</text>
<line x1="85.03" y1="280.2" x2="85.03" y2="284.4" stroke="#1a1a1a" stroke-width="1.3"/>
<text x="87.13" y="289.9" font-size="6" text-anchor="end" transform="rotate(-90 87.13 289.9)" fill="#1a1a1a">Day2</text>
<line x1="103.26" y1="280.2" x2="103.26" y2="284.4" stroke="#1a1a1a" stroke-width="1.3"/>
<text x="105.36" y="289.9" font-size="6" text-anchor="end" transform="rotate(-90 105.36 289.9)" fill="#1a1a1a">Day3</text>
<line x1="121.49" y1="280.2" x2="121.49" y2="284.4" stroke="#1a1a1a" stroke-width="1.3"/>
<text x="123.59" y="289.9" font-size="6" text-anchor="end" transform="rotate(-90 123.59 289.9)" fill="#1a1a1a">Day4</text>
<line x1="139.72" y1="280.2" x2="139.72" y2="284.4" stroke="#1a1a1a" stroke-width="1.3"/>
<text x="141.82" y="289.9" font-size="6" text-anchor="end" transform="rotate(-90 141.82 289.9)" fill="#1a1a1a">Day5</text>
<line x1="157.95" y1="280.2" x2="157.95" y2="284.4" stroke="#1a1a1a" stroke-width="1.3"/>
<text x="160.05" y="289.9" font-size="6" text-anchor="end" transform="rotate(-90 160.05 289.9)" fill="#1a1a1a">Day6-Pre Apix</text>
<line x1="176.18" y1="280.2" x2="176.18" y2="284.4" stroke="#1a1a1a" stroke-width="1.3"/>
<text x="178.28" y="289.9" font-size="6" text-anchor="end" transform="rotate(-90 178.28 289.9)" fill="#1a1a1a">Day6-3hr Apix</text>
<line x1="194.41" y1="280.2" x2="194.41" y2="284.4" stroke="#1a1a1a" stroke-width="1.3"/>
<text x="196.51" y="289.9" font-size="6" text-anchor="end" transform="rotate(-90 196.51 289.9)" fill="#1a1a1a">0.16</text>
<line x1="212.64" y1="280.2" x2="212.64" y2="284.4" stroke="#1a1a1a" stroke-width="1.3"/>
<text x="214.74" y="289.9" font-size="6" text-anchor="end" transform="rotate(-90 214.74 289.9)" fill="#1a1a1a">0.5</text>
<line x1="230.87" y1="280.2" x2="230.87" y2="284.4" stroke="#1a1a1a" stroke-width="1.3"/>
<text x="232.97" y="289.9" font-size="6" text-anchor="end" transform="rotate(-90 232.97 289.9)" fill="#1a1a1a">1.5</text>
<line x1="249.1" y1="280.2" x2="249.1" y2="284.4" stroke="#1a1a1a" stroke-width="1.3"/>
<text x="251.2" y="289.9" font-size="6" text-anchor="end" transform="rotate(-90 251.2 289.9)" fill="#1a1a1a">2.5</text>
<line x1="267.33" y1="280.2" x2="267.33" y2="284.4" stroke="#1a1a1a" stroke-width="1.3"/>
<text x="269.43" y="289.9" font-size="6" text-anchor="end" transform="rotate(-90 269.43 289.9)" fill="#1a1a1a">4.5</text>
<line x1="285.56" y1="280.2" x2="285.56" y2="284.4" stroke="#1a1a1a" stroke-width="1.3"/>
<text x="287.66" y="289.9" font-size="6" text-anchor="end" transform="rotate(-90 287.66 289.9)" fill="#1a1a1a">6.5</text>
<line x1="303.79" y1="280.2" x2="303.79" y2="284.4" stroke="#1a1a1a" stroke-width="1.3"/>
<text x="305.89" y="289.9" font-size="6" text-anchor="end" transform="rotate(-90 305.89 289.9)" fill="#1a1a1a">8.5</text>
<line x1="322.02" y1="280.2" x2="322.02" y2="284.4" stroke="#1a1a1a" stroke-width="1.3"/>
<text x="324.12" y="289.9" font-size="6" text-anchor="end" transform="rotate(-90 324.12 289.9)" fill="#1a1a1a">21</text>
<line x1="340.25" y1="280.2" x2="340.25" y2="284.4" stroke="#1a1a1a" stroke-width="1.3"/>
<text x="342.35" y="289.9" font-size="6" text-anchor="end" transform="rotate(-90 342.35 289.9)" fill="#1a1a1a">33</text>
<line x1="358.48" y1="280.2" x2="358.48" y2="284.4" stroke="#1a1a1a" stroke-width="1.3"/>
<text x="360.58" y="289.9" font-size="6" text-anchor="end" transform="rotate(-90 360.58 289.9)" fill="#1a1a1a">Day8</text>
<line x1="376.71" y1="280.2" x2="376.71" y2="284.4" stroke="#1a1a1a" stroke-width="1.3"/>
<text x="378.81" y="289.9" font-size="6" text-anchor="end" transform="rotate(-90 378.81 289.9)" fill="#1a1a1a">Day9</text>
<line x1="394.94" y1="280.2" x2="394.94" y2="284.4" stroke="#1a1a1a" stroke-width="1.3"/>
<text x="397.04" y="289.9" font-size="6" text-anchor="end" transform="rotate(-90 397.04 289.9)" fill="#1a1a1a">Day10</text>
<line x1="413.17" y1="280.2" x2="413.17" y2="284.4" stroke="#1a1a1a" stroke-width="1.3"/>
<text x="415.27" y="289.9" font-size="6" text-anchor="end" transform="rotate(-90 415.27 289.9)" fill="#1a1a1a">Day11</text>
<line x1="431.4" y1="280.2" x2="431.4" y2="284.4" stroke="#1a1a1a" stroke-width="1.3"/>
<text x="433.5" y="289.9" font-size="6" text-anchor="end" transform="rotate(-90 433.5 289.9)" fill="#1a1a1a">Day13</text>
<line x1="449.63" y1="280.2" x2="449.63" y2="284.4" stroke="#1a1a1a" stroke-width="1.3"/>
<text x="451.73" y="289.9" font-size="6" text-anchor="end" transform="rotate(-90 451.73 289.9)" fill="#1a1a1a">Day20</text>
<line x1="467.86" y1="280.2" x2="467.86" y2="284.4" stroke="#1a1a1a" stroke-width="1.3"/>
<text x="469.96" y="289.9" font-size="6" text-anchor="end" transform="rotate(-90 469.96 289.9)" fill="#1a1a1a">Day34</text>
<line x1="486.09" y1="280.2" x2="486.09" y2="284.4" stroke="#1a1a1a" stroke-width="1.3"/>
<text x="488.19" y="289.9" font-size="6" text-anchor="end" transform="rotate(-90 488.19 289.9)" fill="#1a1a1a">Day48</text>
<text x="25.3" y="246.7" font-size="7.4" text-anchor="middle" transform="rotate(-90 25.3 246.7)" fill="#1a1a1a" style="stroke-width:0.3px">F1+2 (pmol/L)</text>
<line x1="187.5" y1="308" x2="346.7" y2="308" stroke="#1a1a1a" stroke-width="1.2"/>
<text x="267.6" y="316.3" font-size="6.05" text-anchor="middle" fill="#1a1a1a">Post Andexanet (h)</text>
<text x="167.8" y="221.2" font-size="6.1" text-anchor="start" fill="#1a1a1a">End of Bolus</text>
<line x1="185.3" y1="222.2" x2="185.3" y2="228.9" stroke="#1a1a1a" stroke-width="1.4"/>
<path d="M182.1 226.9 L185.3 228.9 L188.5 226.9 L185.3 235.3 Z" fill="#1a1a1a"/>
<rect x="368" y="209" width="10.3" height="4" fill="#aa1539" stroke="#700c22" stroke-width="0.4"/>
<text x="383" y="213.2" font-size="6" text-anchor="start" fill="#1a1a1a" letter-spacing="0.2" style="stroke-width:0.05px">90 mg [Cohort 1] (N=6)</text>
<rect x="368" y="220.5" width="10.3" height="4" fill="#4e535d" stroke="#30333a" stroke-width="0.4"/>
<text x="383" y="224.7" font-size="6" text-anchor="start" fill="#1a1a1a" letter-spacing="0.2" style="stroke-width:0.05px">Placebo [Cohort 1] (N=3)</text>
<rect x="60.6" y="407.3" width="5" height="6.5" fill="#2a4a88" stroke="#1a2f5c" stroke-width="0.5"/>
<line x1="63.1" y1="407.8" x2="63.1" y2="406.5" stroke="#151515" stroke-width="1.2"/>
<rect x="61.5" y="406.1" width="3.2" height="1.5" fill="#151515"/>
<rect x="68.4" y="408.5" width="5" height="5.3" fill="#4e535d" stroke="#30333a" stroke-width="0.5"/>
<line x1="70.9" y1="409" x2="70.9" y2="407" stroke="#151515" stroke-width="1.2"/>
<rect x="69.3" y="406.6" width="3.2" height="1.5" fill="#151515"/>
<rect x="78.87" y="409.2" width="5" height="4.6" fill="#2a4a88" stroke="#1a2f5c" stroke-width="0.5"/>
<line x1="81.37" y1="409.7" x2="81.37" y2="408.4" stroke="#151515" stroke-width="1.2"/>
<rect x="79.77" y="408" width="3.2" height="1.5" fill="#151515"/>
<rect x="86.67" y="409.2" width="5" height="4.6" fill="#4e535d" stroke="#30333a" stroke-width="0.5"/>
<line x1="89.17" y1="409.7" x2="89.17" y2="408.4" stroke="#151515" stroke-width="1.2"/>
<rect x="87.57" y="408" width="3.2" height="1.5" fill="#151515"/>
<rect x="97.14" y="409.2" width="5" height="4.6" fill="#2a4a88" stroke="#1a2f5c" stroke-width="0.5"/>
<line x1="99.64" y1="409.7" x2="99.64" y2="408.4" stroke="#151515" stroke-width="1.2"/>
<rect x="98.04" y="408" width="3.2" height="1.5" fill="#151515"/>
<rect x="104.94" y="409.2" width="5" height="4.6" fill="#4e535d" stroke="#30333a" stroke-width="0.5"/>
<line x1="107.44" y1="409.7" x2="107.44" y2="408.4" stroke="#151515" stroke-width="1.2"/>
<rect x="105.84" y="408" width="3.2" height="1.5" fill="#151515"/>
<rect x="115.41" y="409" width="5" height="4.8" fill="#2a4a88" stroke="#1a2f5c" stroke-width="0.5"/>
<line x1="117.91" y1="409.5" x2="117.91" y2="408.2" stroke="#151515" stroke-width="1.2"/>
<rect x="116.31" y="407.8" width="3.2" height="1.5" fill="#151515"/>
<rect x="123.21" y="410" width="5" height="3.8" fill="#4e535d" stroke="#30333a" stroke-width="0.5"/>
<line x1="125.71" y1="410.5" x2="125.71" y2="409.2" stroke="#151515" stroke-width="1.2"/>
<rect x="124.11" y="408.8" width="3.2" height="1.5" fill="#151515"/>
<rect x="133.68" y="409.2" width="5" height="4.6" fill="#2a4a88" stroke="#1a2f5c" stroke-width="0.5"/>
<line x1="136.18" y1="409.7" x2="136.18" y2="408.4" stroke="#151515" stroke-width="1.2"/>
<rect x="134.58" y="408" width="3.2" height="1.5" fill="#151515"/>
<rect x="141.48" y="409.5" width="5" height="4.3" fill="#4e535d" stroke="#30333a" stroke-width="0.5"/>
<line x1="143.98" y1="410" x2="143.98" y2="408.7" stroke="#151515" stroke-width="1.2"/>
<rect x="142.38" y="408.3" width="3.2" height="1.5" fill="#151515"/>
<rect x="151.95" y="409.4" width="5" height="4.4" fill="#2a4a88" stroke="#1a2f5c" stroke-width="0.5"/>
<line x1="154.45" y1="409.9" x2="154.45" y2="408.6" stroke="#151515" stroke-width="1.2"/>
<rect x="152.85" y="408.2" width="3.2" height="1.5" fill="#151515"/>
<rect x="159.75" y="409.2" width="5" height="4.6" fill="#4e535d" stroke="#30333a" stroke-width="0.5"/>
<line x1="162.25" y1="409.7" x2="162.25" y2="408.4" stroke="#151515" stroke-width="1.2"/>
<rect x="160.65" y="408" width="3.2" height="1.5" fill="#151515"/>
<rect x="170.22" y="409.4" width="5" height="4.4" fill="#2a4a88" stroke="#1a2f5c" stroke-width="0.5"/>
<line x1="172.72" y1="409.9" x2="172.72" y2="408.6" stroke="#151515" stroke-width="1.2"/>
<rect x="171.12" y="408.2" width="3.2" height="1.5" fill="#151515"/>
<rect x="178.02" y="409.8" width="5" height="4" fill="#4e535d" stroke="#30333a" stroke-width="0.5"/>
<line x1="180.52" y1="410.3" x2="180.52" y2="409" stroke="#151515" stroke-width="1.2"/>
<rect x="178.92" y="408.6" width="3.2" height="1.5" fill="#151515"/>
<rect x="188.49" y="406.9" width="5" height="6.9" fill="#2a4a88" stroke="#1a2f5c" stroke-width="0.5"/>
<line x1="190.99" y1="407.4" x2="190.99" y2="406.1" stroke="#151515" stroke-width="1.2"/>
<rect x="189.39" y="405.7" width="3.2" height="1.5" fill="#151515"/>
<rect x="196.29" y="409.4" width="5" height="4.4" fill="#4e535d" stroke="#30333a" stroke-width="0.5"/>
<line x1="198.79" y1="409.9" x2="198.79" y2="408.6" stroke="#151515" stroke-width="1.2"/>
<rect x="197.19" y="408.2" width="3.2" height="1.5" fill="#151515"/>
<rect x="206.76" y="404.6" width="5" height="9.2" fill="#2a4a88" stroke="#1a2f5c" stroke-width="0.5"/>
<line x1="209.26" y1="405.1" x2="209.26" y2="403.8" stroke="#151515" stroke-width="1.2"/>
<rect x="207.66" y="403.4" width="3.2" height="1.5" fill="#151515"/>
<rect x="214.56" y="409.2" width="5" height="4.6" fill="#4e535d" stroke="#30333a" stroke-width="0.5"/>
<line x1="217.06" y1="409.7" x2="217.06" y2="408.4" stroke="#151515" stroke-width="1.2"/>
<rect x="215.46" y="408" width="3.2" height="1.5" fill="#151515"/>
<rect x="225.03" y="401.7" width="5" height="12.1" fill="#2a4a88" stroke="#1a2f5c" stroke-width="0.5"/>
<line x1="227.53" y1="402.2" x2="227.53" y2="400.8" stroke="#151515" stroke-width="1.2"/>
<rect x="225.93" y="400.4" width="3.2" height="1.5" fill="#151515"/>
<rect x="232.83" y="409.2" width="5" height="4.6" fill="#4e535d" stroke="#30333a" stroke-width="0.5"/>
<line x1="235.33" y1="409.7" x2="235.33" y2="408.4" stroke="#151515" stroke-width="1.2"/>
<rect x="233.73" y="408" width="3.2" height="1.5" fill="#151515"/>
<rect x="243.3" y="400.6" width="5" height="13.2" fill="#2a4a88" stroke="#1a2f5c" stroke-width="0.5"/>
<line x1="245.8" y1="401.1" x2="245.8" y2="399.6" stroke="#151515" stroke-width="1.2"/>
<rect x="244.2" y="399.2" width="3.2" height="1.5" fill="#151515"/>
<rect x="251.1" y="409.4" width="5" height="4.4" fill="#4e535d" stroke="#30333a" stroke-width="0.5"/>
<line x1="253.6" y1="409.9" x2="253.6" y2="408.6" stroke="#151515" stroke-width="1.2"/>
<rect x="252" y="408.2" width="3.2" height="1.5" fill="#151515"/>
<rect x="261.57" y="395.8" width="5" height="18" fill="#2a4a88" stroke="#1a2f5c" stroke-width="0.5"/>
<line x1="264.07" y1="396.3" x2="264.07" y2="393.5" stroke="#151515" stroke-width="1.2"/>
<rect x="262.47" y="393.1" width="3.2" height="1.5" fill="#151515"/>
<rect x="269.37" y="407.9" width="5" height="5.9" fill="#4e535d" stroke="#30333a" stroke-width="0.5"/>
<line x1="271.87" y1="408.4" x2="271.87" y2="406" stroke="#151515" stroke-width="1.2"/>
<rect x="270.27" y="405.6" width="3.2" height="1.5" fill="#151515"/>
<rect x="279.84" y="391.9" width="5" height="21.9" fill="#2a4a88" stroke="#1a2f5c" stroke-width="0.5"/>
<line x1="282.34" y1="392.4" x2="282.34" y2="388.7" stroke="#151515" stroke-width="1.2"/>
<rect x="280.74" y="388.3" width="3.2" height="1.5" fill="#151515"/>
<rect x="287.64" y="409.2" width="5" height="4.6" fill="#4e535d" stroke="#30333a" stroke-width="0.5"/>
<line x1="290.14" y1="409.7" x2="290.14" y2="408.4" stroke="#151515" stroke-width="1.2"/>
<rect x="288.54" y="408" width="3.2" height="1.5" fill="#151515"/>
<rect x="298.11" y="391.9" width="5" height="21.9" fill="#2a4a88" stroke="#1a2f5c" stroke-width="0.5"/>
<line x1="300.61" y1="392.4" x2="300.61" y2="388.8" stroke="#151515" stroke-width="1.2"/>
<rect x="299.01" y="388.4" width="3.2" height="1.5" fill="#151515"/>
<rect x="305.91" y="408.5" width="5" height="5.3" fill="#4e535d" stroke="#30333a" stroke-width="0.5"/>
<line x1="308.41" y1="409" x2="308.41" y2="407.7" stroke="#151515" stroke-width="1.2"/>
<rect x="306.81" y="407.3" width="3.2" height="1.5" fill="#151515"/>
<rect x="316.38" y="391.5" width="5" height="22.3" fill="#2a4a88" stroke="#1a2f5c" stroke-width="0.5"/>
<line x1="318.88" y1="392" x2="318.88" y2="385.4" stroke="#151515" stroke-width="1.2"/>
<rect x="317.28" y="385" width="3.2" height="1.5" fill="#151515"/>
<rect x="324.18" y="410.2" width="5" height="3.6" fill="#4e535d" stroke="#30333a" stroke-width="0.5"/>
<line x1="326.68" y1="410.7" x2="326.68" y2="409.4" stroke="#151515" stroke-width="1.2"/>
<rect x="325.08" y="409" width="3.2" height="1.5" fill="#151515"/>
<rect x="334.65" y="399.6" width="5" height="14.2" fill="#2a4a88" stroke="#1a2f5c" stroke-width="0.5"/>
<line x1="337.15" y1="400.1" x2="337.15" y2="397" stroke="#151515" stroke-width="1.2"/>
<rect x="335.55" y="396.6" width="3.2" height="1.5" fill="#151515"/>
<rect x="342.45" y="409.2" width="5" height="4.6" fill="#4e535d" stroke="#30333a" stroke-width="0.5"/>
<line x1="344.95" y1="409.7" x2="344.95" y2="408.4" stroke="#151515" stroke-width="1.2"/>
<rect x="343.35" y="408" width="3.2" height="1.5" fill="#151515"/>
<rect x="352.92" y="400.2" width="5" height="13.6" fill="#2a4a88" stroke="#1a2f5c" stroke-width="0.5"/>
<line x1="355.42" y1="400.7" x2="355.42" y2="398.3" stroke="#151515" stroke-width="1.2"/>
<rect x="353.82" y="397.9" width="3.2" height="1.5" fill="#151515"/>
<rect x="360.72" y="408.3" width="5" height="5.5" fill="#4e535d" stroke="#30333a" stroke-width="0.5"/>
<line x1="363.22" y1="408.8" x2="363.22" y2="407.5" stroke="#151515" stroke-width="1.2"/>
<rect x="361.62" y="407.1" width="3.2" height="1.5" fill="#151515"/>
<rect x="371.19" y="404.6" width="5" height="9.2" fill="#2a4a88" stroke="#1a2f5c" stroke-width="0.5"/>
<line x1="373.69" y1="405.1" x2="373.69" y2="403.1" stroke="#151515" stroke-width="1.2"/>
<rect x="372.09" y="402.7" width="3.2" height="1.5" fill="#151515"/>
<rect x="378.99" y="406" width="5" height="7.8" fill="#4e535d" stroke="#30333a" stroke-width="0.5"/>
<line x1="381.49" y1="406.5" x2="381.49" y2="405.2" stroke="#151515" stroke-width="1.2"/>
<rect x="379.89" y="404.8" width="3.2" height="1.5" fill="#151515"/>
<rect x="389.46" y="404.6" width="5" height="9.2" fill="#2a4a88" stroke="#1a2f5c" stroke-width="0.5"/>
<line x1="391.96" y1="405.1" x2="391.96" y2="403" stroke="#151515" stroke-width="1.2"/>
<rect x="390.36" y="402.6" width="3.2" height="1.5" fill="#151515"/>
<rect x="397.26" y="406" width="5" height="7.8" fill="#4e535d" stroke="#30333a" stroke-width="0.5"/>
<line x1="399.76" y1="406.5" x2="399.76" y2="405.2" stroke="#151515" stroke-width="1.2"/>
<rect x="398.16" y="404.8" width="3.2" height="1.5" fill="#151515"/>
<rect x="407.73" y="407.4" width="5" height="6.4" fill="#2a4a88" stroke="#1a2f5c" stroke-width="0.5"/>
<line x1="410.23" y1="407.9" x2="410.23" y2="406.6" stroke="#151515" stroke-width="1.2"/>
<rect x="408.63" y="406.2" width="3.2" height="1.5" fill="#151515"/>
<rect x="415.53" y="406.9" width="5" height="6.9" fill="#4e535d" stroke="#30333a" stroke-width="0.5"/>
<line x1="418.03" y1="407.4" x2="418.03" y2="406.1" stroke="#151515" stroke-width="1.2"/>
<rect x="416.43" y="405.7" width="3.2" height="1.5" fill="#151515"/>
<rect x="426" y="406.5" width="5" height="7.3" fill="#2a4a88" stroke="#1a2f5c" stroke-width="0.5"/>
<line x1="428.5" y1="407" x2="428.5" y2="405.7" stroke="#151515" stroke-width="1.2"/>
<rect x="426.9" y="405.3" width="3.2" height="1.5" fill="#151515"/>
<rect x="433.8" y="406" width="5" height="7.8" fill="#4e535d" stroke="#30333a" stroke-width="0.5"/>
<line x1="436.3" y1="406.5" x2="436.3" y2="405.2" stroke="#151515" stroke-width="1.2"/>
<rect x="434.7" y="404.8" width="3.2" height="1.5" fill="#151515"/>
<rect x="444.27" y="406.3" width="5" height="7.5" fill="#2a4a88" stroke="#1a2f5c" stroke-width="0.5"/>
<line x1="446.77" y1="406.8" x2="446.77" y2="404.5" stroke="#151515" stroke-width="1.2"/>
<rect x="445.17" y="404.1" width="3.2" height="1.5" fill="#151515"/>
<rect x="452.07" y="407.5" width="5" height="6.3" fill="#4e535d" stroke="#30333a" stroke-width="0.5"/>
<line x1="454.57" y1="408" x2="454.57" y2="406.7" stroke="#151515" stroke-width="1.2"/>
<rect x="452.97" y="406.3" width="3.2" height="1.5" fill="#151515"/>
<rect x="462.54" y="405.6" width="5" height="8.2" fill="#2a4a88" stroke="#1a2f5c" stroke-width="0.5"/>
<line x1="465.04" y1="406.1" x2="465.04" y2="404" stroke="#151515" stroke-width="1.2"/>
<rect x="463.44" y="403.6" width="3.2" height="1.5" fill="#151515"/>
<rect x="470.34" y="407.9" width="5" height="5.9" fill="#4e535d" stroke="#30333a" stroke-width="0.5"/>
<line x1="472.84" y1="408.4" x2="472.84" y2="407.1" stroke="#151515" stroke-width="1.2"/>
<rect x="471.24" y="406.7" width="3.2" height="1.5" fill="#151515"/>
<rect x="480.81" y="406.3" width="5" height="7.5" fill="#2a4a88" stroke="#1a2f5c" stroke-width="0.5"/>
<line x1="483.31" y1="406.8" x2="483.31" y2="405.5" stroke="#151515" stroke-width="1.2"/>
<rect x="481.71" y="405.1" width="3.2" height="1.5" fill="#151515"/>
<rect x="488.61" y="406.9" width="5" height="6.9" fill="#4e535d" stroke="#30333a" stroke-width="0.5"/>
<line x1="491.11" y1="407.4" x2="491.11" y2="406.1" stroke="#151515" stroke-width="1.2"/>
<rect x="489.51" y="405.7" width="3.2" height="1.5" fill="#151515"/>
<line x1="57.8" y1="402.7" x2="494.6" y2="402.7" stroke="#555555" stroke-width="1.1" stroke-dasharray="3.4,0.45"/>
<line x1="57.8" y1="345.5" x2="57.8" y2="414.6" stroke="#1a1a1a" stroke-width="1.8"/>
<line x1="53.4" y1="392.5" x2="57.8" y2="392.5" stroke="#1a1a1a" stroke-width="1.3"/>
<line x1="53.4" y1="371.2" x2="57.8" y2="371.2" stroke="#1a1a1a" stroke-width="1.3"/>
<line x1="53.4" y1="349.9" x2="57.8" y2="349.9" stroke="#1a1a1a" stroke-width="1.3"/>
<text x="49.2" y="415.8" font-size="6.35" text-anchor="end" fill="#1a1a1a" letter-spacing="0.25" style="stroke-width:0.2px">0</text>
<text x="49.2" y="394.5" font-size="6.35" text-anchor="end" fill="#1a1a1a" letter-spacing="0.25" style="stroke-width:0.2px">500</text>
<text x="49.2" y="373.2" font-size="6.35" text-anchor="end" fill="#1a1a1a" letter-spacing="0.25" style="stroke-width:0.2px">1000</text>
<text x="49.2" y="351.9" font-size="6.35" text-anchor="end" fill="#1a1a1a" letter-spacing="0.25" style="stroke-width:0.2px">1500</text>
<line x1="53.4" y1="413.8" x2="498.8" y2="413.8" stroke="#1a1a1a" stroke-width="1.7"/>
<line x1="67" y1="413.8" x2="67" y2="418" stroke="#1a1a1a" stroke-width="1.3"/>
<text x="69.1" y="423.5" font-size="6" text-anchor="end" transform="rotate(-90 69.1 423.5)" fill="#1a1a1a">Day1 Pre Apix</text>
<line x1="85.27" y1="413.8" x2="85.27" y2="418" stroke="#1a1a1a" stroke-width="1.3"/>
<text x="87.37" y="423.5" font-size="6" text-anchor="end" transform="rotate(-90 87.37 423.5)" fill="#1a1a1a">Day2</text>
<line x1="103.54" y1="413.8" x2="103.54" y2="418" stroke="#1a1a1a" stroke-width="1.3"/>
<text x="105.64" y="423.5" font-size="6" text-anchor="end" transform="rotate(-90 105.64 423.5)" fill="#1a1a1a">Day3</text>
<line x1="121.81" y1="413.8" x2="121.81" y2="418" stroke="#1a1a1a" stroke-width="1.3"/>
<text x="123.91" y="423.5" font-size="6" text-anchor="end" transform="rotate(-90 123.91 423.5)" fill="#1a1a1a">Day4</text>
<line x1="140.08" y1="413.8" x2="140.08" y2="418" stroke="#1a1a1a" stroke-width="1.3"/>
<text x="142.18" y="423.5" font-size="6" text-anchor="end" transform="rotate(-90 142.18 423.5)" fill="#1a1a1a">Day5</text>
<line x1="158.35" y1="413.8" x2="158.35" y2="418" stroke="#1a1a1a" stroke-width="1.3"/>
<text x="160.45" y="423.5" font-size="6" text-anchor="end" transform="rotate(-90 160.45 423.5)" fill="#1a1a1a">Day6-Pre Apix</text>
<line x1="176.62" y1="413.8" x2="176.62" y2="418" stroke="#1a1a1a" stroke-width="1.3"/>
<text x="178.72" y="423.5" font-size="6" text-anchor="end" transform="rotate(-90 178.72 423.5)" fill="#1a1a1a">Day6-3hr Apix</text>
<line x1="194.89" y1="413.8" x2="194.89" y2="418" stroke="#1a1a1a" stroke-width="1.3"/>
<text x="196.99" y="423.5" font-size="6" text-anchor="end" transform="rotate(-90 196.99 423.5)" fill="#1a1a1a">0.16</text>
<line x1="213.16" y1="413.8" x2="213.16" y2="418" stroke="#1a1a1a" stroke-width="1.3"/>
<text x="215.26" y="423.5" font-size="6" text-anchor="end" transform="rotate(-90 215.26 423.5)" fill="#1a1a1a">0.5</text>
<line x1="231.43" y1="413.8" x2="231.43" y2="418" stroke="#1a1a1a" stroke-width="1.3"/>
<text x="233.53" y="423.5" font-size="6" text-anchor="end" transform="rotate(-90 233.53 423.5)" fill="#1a1a1a">1.5</text>
<line x1="249.7" y1="413.8" x2="249.7" y2="418" stroke="#1a1a1a" stroke-width="1.3"/>
<text x="251.8" y="423.5" font-size="6" text-anchor="end" transform="rotate(-90 251.8 423.5)" fill="#1a1a1a">2.5</text>
<line x1="267.97" y1="413.8" x2="267.97" y2="418" stroke="#1a1a1a" stroke-width="1.3"/>
<text x="270.07" y="423.5" font-size="6" text-anchor="end" transform="rotate(-90 270.07 423.5)" fill="#1a1a1a">4.5</text>
<line x1="286.24" y1="413.8" x2="286.24" y2="418" stroke="#1a1a1a" stroke-width="1.3"/>
<text x="288.34" y="423.5" font-size="6" text-anchor="end" transform="rotate(-90 288.34 423.5)" fill="#1a1a1a">6.5</text>
<line x1="304.51" y1="413.8" x2="304.51" y2="418" stroke="#1a1a1a" stroke-width="1.3"/>
<text x="306.61" y="423.5" font-size="6" text-anchor="end" transform="rotate(-90 306.61 423.5)" fill="#1a1a1a">8.5</text>
<line x1="322.78" y1="413.8" x2="322.78" y2="418" stroke="#1a1a1a" stroke-width="1.3"/>
<text x="324.88" y="423.5" font-size="6" text-anchor="end" transform="rotate(-90 324.88 423.5)" fill="#1a1a1a">21</text>
<line x1="341.05" y1="413.8" x2="341.05" y2="418" stroke="#1a1a1a" stroke-width="1.3"/>
<text x="343.15" y="423.5" font-size="6" text-anchor="end" transform="rotate(-90 343.15 423.5)" fill="#1a1a1a">33</text>
<line x1="359.32" y1="413.8" x2="359.32" y2="418" stroke="#1a1a1a" stroke-width="1.3"/>
<text x="361.42" y="423.5" font-size="6" text-anchor="end" transform="rotate(-90 361.42 423.5)" fill="#1a1a1a">Day8</text>
<line x1="377.59" y1="413.8" x2="377.59" y2="418" stroke="#1a1a1a" stroke-width="1.3"/>
<text x="379.69" y="423.5" font-size="6" text-anchor="end" transform="rotate(-90 379.69 423.5)" fill="#1a1a1a">Day9</text>
<line x1="395.86" y1="413.8" x2="395.86" y2="418" stroke="#1a1a1a" stroke-width="1.3"/>
<text x="397.96" y="423.5" font-size="6" text-anchor="end" transform="rotate(-90 397.96 423.5)" fill="#1a1a1a">Day10</text>
<line x1="414.13" y1="413.8" x2="414.13" y2="418" stroke="#1a1a1a" stroke-width="1.3"/>
<text x="416.23" y="423.5" font-size="6" text-anchor="end" transform="rotate(-90 416.23 423.5)" fill="#1a1a1a">Day11</text>
<line x1="432.4" y1="413.8" x2="432.4" y2="418" stroke="#1a1a1a" stroke-width="1.3"/>
<text x="434.5" y="423.5" font-size="6" text-anchor="end" transform="rotate(-90 434.5 423.5)" fill="#1a1a1a">Day13</text>
<line x1="450.67" y1="413.8" x2="450.67" y2="418" stroke="#1a1a1a" stroke-width="1.3"/>
<text x="452.77" y="423.5" font-size="6" text-anchor="end" transform="rotate(-90 452.77 423.5)" fill="#1a1a1a">Day20</text>
<line x1="468.94" y1="413.8" x2="468.94" y2="418" stroke="#1a1a1a" stroke-width="1.3"/>
<text x="471.04" y="423.5" font-size="6" text-anchor="end" transform="rotate(-90 471.04 423.5)" fill="#1a1a1a">Day34</text>
<line x1="487.21" y1="413.8" x2="487.21" y2="418" stroke="#1a1a1a" stroke-width="1.3"/>
<text x="489.31" y="423.5" font-size="6" text-anchor="end" transform="rotate(-90 489.31 423.5)" fill="#1a1a1a">Day48</text>
<text x="25.3" y="379.8" font-size="7.4" text-anchor="middle" transform="rotate(-90 25.3 379.8)" fill="#1a1a1a" style="stroke-width:0.3px">F1+2 (pmol/L)</text>
<line x1="188.3" y1="440.3" x2="348.5" y2="440.3" stroke="#1a1a1a" stroke-width="1.2"/>
<text x="268.2" y="449.6" font-size="6.05" text-anchor="middle" fill="#1a1a1a">Post Andexanet (h)</text>
<text x="168.8" y="354.6" font-size="6.1" text-anchor="start" fill="#1a1a1a">End of Bolus</text>
<line x1="186.5" y1="355.6" x2="186.5" y2="361.5" stroke="#1a1a1a" stroke-width="1.4"/>
<path d="M183.3 359.5 L186.5 361.5 L189.7 359.5 L186.5 367.9 Z" fill="#1a1a1a"/>
<rect x="356" y="343.2" width="10.3" height="4" fill="#2a4a88" stroke="#1a2f5c" stroke-width="0.4"/>
<text x="370.2" y="347.4" font-size="6" text-anchor="start" fill="#1a1a1a" letter-spacing="0.2" style="stroke-width:0.05px">210 mg [Cohort 2] (N=6)</text>
<rect x="356" y="353.5" width="10.3" height="4" fill="#4e535d" stroke="#30333a" stroke-width="0.4"/>
<text x="370.2" y="357.7" font-size="6" text-anchor="start" fill="#1a1a1a" letter-spacing="0.2" style="stroke-width:0.05px">Placebo [Cohort 2] (N=3)</text>
<line x1="57.8" y1="533.6" x2="499.7" y2="533.6" stroke="#555555" stroke-width="1.1" stroke-dasharray="3.4,0.45"/>
<rect x="60.5" y="540.6" width="5.1" height="5.8" fill="#6cb043" stroke="#4a8a2c" stroke-width="0.5"/>
<line x1="63.05" y1="541.1" x2="63.05" y2="539.8" stroke="#151515" stroke-width="1.2"/>
<rect x="61.45" y="539.4" width="3.2" height="1.5" fill="#151515"/>
<rect x="68.4" y="539.6" width="5.1" height="6.8" fill="#4e535d" stroke="#30333a" stroke-width="0.5"/>
<line x1="70.95" y1="540.1" x2="70.95" y2="538.8" stroke="#151515" stroke-width="1.2"/>
<rect x="69.35" y="538.4" width="3.2" height="1.5" fill="#151515"/>
<rect x="79.04" y="542.5" width="5.1" height="3.9" fill="#6cb043" stroke="#4a8a2c" stroke-width="0.5"/>
<line x1="81.59" y1="543" x2="81.59" y2="541.7" stroke="#151515" stroke-width="1.2"/>
<rect x="79.99" y="541.3" width="3.2" height="1.5" fill="#151515"/>
<rect x="86.94" y="542.5" width="5.1" height="3.9" fill="#4e535d" stroke="#30333a" stroke-width="0.5"/>
<line x1="89.49" y1="543" x2="89.49" y2="541.7" stroke="#151515" stroke-width="1.2"/>
<rect x="87.89" y="541.3" width="3.2" height="1.5" fill="#151515"/>
<rect x="97.58" y="543.1" width="5.1" height="3.3" fill="#6cb043" stroke="#4a8a2c" stroke-width="0.5"/>
<line x1="100.13" y1="543.6" x2="100.13" y2="542.3" stroke="#151515" stroke-width="1.2"/>
<rect x="98.53" y="541.9" width="3.2" height="1.5" fill="#151515"/>
<rect x="105.48" y="542.5" width="5.1" height="3.9" fill="#4e535d" stroke="#30333a" stroke-width="0.5"/>
<line x1="108.03" y1="543" x2="108.03" y2="541.7" stroke="#151515" stroke-width="1.2"/>
<rect x="106.43" y="541.3" width="3.2" height="1.5" fill="#151515"/>
<rect x="116.12" y="543.1" width="5.1" height="3.3" fill="#6cb043" stroke="#4a8a2c" stroke-width="0.5"/>
<line x1="118.67" y1="543.6" x2="118.67" y2="542.3" stroke="#151515" stroke-width="1.2"/>
<rect x="117.07" y="541.9" width="3.2" height="1.5" fill="#151515"/>
<rect x="124.02" y="542.3" width="5.1" height="4.1" fill="#4e535d" stroke="#30333a" stroke-width="0.5"/>
<line x1="126.57" y1="542.8" x2="126.57" y2="541.5" stroke="#151515" stroke-width="1.2"/>
<rect x="124.97" y="541.1" width="3.2" height="1.5" fill="#151515"/>
<rect x="134.66" y="543.1" width="5.1" height="3.3" fill="#6cb043" stroke="#4a8a2c" stroke-width="0.5"/>
<line x1="137.21" y1="543.6" x2="137.21" y2="542.3" stroke="#151515" stroke-width="1.2"/>
<rect x="135.61" y="541.9" width="3.2" height="1.5" fill="#151515"/>
<rect x="142.56" y="542.5" width="5.1" height="3.9" fill="#4e535d" stroke="#30333a" stroke-width="0.5"/>
<line x1="145.11" y1="543" x2="145.11" y2="541.7" stroke="#151515" stroke-width="1.2"/>
<rect x="143.51" y="541.3" width="3.2" height="1.5" fill="#151515"/>
<rect x="153.2" y="541.9" width="5.1" height="4.5" fill="#6cb043" stroke="#4a8a2c" stroke-width="0.5"/>
<line x1="155.75" y1="542.4" x2="155.75" y2="541.1" stroke="#151515" stroke-width="1.2"/>
<rect x="154.15" y="540.7" width="3.2" height="1.5" fill="#151515"/>
<rect x="161.1" y="541.5" width="5.1" height="4.9" fill="#4e535d" stroke="#30333a" stroke-width="0.5"/>
<line x1="163.65" y1="542" x2="163.65" y2="540.7" stroke="#151515" stroke-width="1.2"/>
<rect x="162.05" y="540.3" width="3.2" height="1.5" fill="#151515"/>
<rect x="171.74" y="542.5" width="5.1" height="3.9" fill="#6cb043" stroke="#4a8a2c" stroke-width="0.5"/>
<line x1="174.29" y1="543" x2="174.29" y2="541.7" stroke="#151515" stroke-width="1.2"/>
<rect x="172.69" y="541.3" width="3.2" height="1.5" fill="#151515"/>
<rect x="179.64" y="537.3" width="5.1" height="9.1" fill="#4e535d" stroke="#30333a" stroke-width="0.5"/>
<line x1="182.19" y1="537.8" x2="182.19" y2="531.5" stroke="#151515" stroke-width="1.2"/>
<rect x="180.59" y="531.1" width="3.2" height="1.5" fill="#151515"/>
<rect x="190.28" y="536.7" width="5.1" height="9.7" fill="#6cb043" stroke="#4a8a2c" stroke-width="0.5"/>
<line x1="192.83" y1="537.2" x2="192.83" y2="533.8" stroke="#151515" stroke-width="1.2"/>
<rect x="191.23" y="533.4" width="3.2" height="1.5" fill="#151515"/>
<rect x="198.18" y="540.2" width="5.1" height="6.2" fill="#4e535d" stroke="#30333a" stroke-width="0.5"/>
<line x1="200.73" y1="540.7" x2="200.73" y2="539.4" stroke="#151515" stroke-width="1.2"/>
<rect x="199.13" y="539" width="3.2" height="1.5" fill="#151515"/>
<rect x="208.82" y="530.4" width="5.1" height="16" fill="#6cb043" stroke="#4a8a2c" stroke-width="0.5"/>
<line x1="211.37" y1="530.9" x2="211.37" y2="526.7" stroke="#151515" stroke-width="1.2"/>
<rect x="209.77" y="526.3" width="3.2" height="1.5" fill="#151515"/>
<rect x="216.72" y="541.9" width="5.1" height="4.5" fill="#4e535d" stroke="#30333a" stroke-width="0.5"/>
<line x1="219.27" y1="542.4" x2="219.27" y2="541.1" stroke="#151515" stroke-width="1.2"/>
<rect x="217.67" y="540.7" width="3.2" height="1.5" fill="#151515"/>
<rect x="227.36" y="522.7" width="5.1" height="23.7" fill="#6cb043" stroke="#4a8a2c" stroke-width="0.5"/>
<line x1="229.91" y1="523.2" x2="229.91" y2="516.2" stroke="#151515" stroke-width="1.2"/>
<rect x="228.31" y="515.8" width="3.2" height="1.5" fill="#151515"/>
<rect x="235.26" y="541.2" width="5.1" height="5.2" fill="#4e535d" stroke="#30333a" stroke-width="0.5"/>
<line x1="237.81" y1="541.7" x2="237.81" y2="540.4" stroke="#151515" stroke-width="1.2"/>
<rect x="236.21" y="540" width="3.2" height="1.5" fill="#151515"/>
<rect x="245.9" y="523.8" width="5.1" height="22.6" fill="#6cb043" stroke="#4a8a2c" stroke-width="0.5"/>
<line x1="248.45" y1="524.3" x2="248.45" y2="515.4" stroke="#151515" stroke-width="1.2"/>
<rect x="246.85" y="515" width="3.2" height="1.5" fill="#151515"/>
<rect x="253.8" y="540" width="5.1" height="6.4" fill="#4e535d" stroke="#30333a" stroke-width="0.5"/>
<line x1="256.35" y1="540.5" x2="256.35" y2="539.2" stroke="#151515" stroke-width="1.2"/>
<rect x="254.75" y="538.8" width="3.2" height="1.5" fill="#151515"/>
<rect x="264.44" y="509.8" width="5.1" height="36.6" fill="#6cb043" stroke="#4a8a2c" stroke-width="0.5"/>
<line x1="266.99" y1="510.3" x2="266.99" y2="499.2" stroke="#151515" stroke-width="1.2"/>
<rect x="265.39" y="498.8" width="3.2" height="1.5" fill="#151515"/>
<rect x="272.34" y="541.2" width="5.1" height="5.2" fill="#4e535d" stroke="#30333a" stroke-width="0.5"/>
<line x1="274.89" y1="541.7" x2="274.89" y2="540.4" stroke="#151515" stroke-width="1.2"/>
<rect x="273.29" y="540" width="3.2" height="1.5" fill="#151515"/>
<rect x="282.98" y="515" width="5.1" height="31.4" fill="#6cb043" stroke="#4a8a2c" stroke-width="0.5"/>
<line x1="285.53" y1="515.5" x2="285.53" y2="507.3" stroke="#151515" stroke-width="1.2"/>
<rect x="283.93" y="506.9" width="3.2" height="1.5" fill="#151515"/>
<rect x="290.88" y="541.2" width="5.1" height="5.2" fill="#4e535d" stroke="#30333a" stroke-width="0.5"/>
<line x1="293.43" y1="541.7" x2="293.43" y2="540.4" stroke="#151515" stroke-width="1.2"/>
<rect x="291.83" y="540" width="3.2" height="1.5" fill="#151515"/>
<rect x="301.52" y="515" width="5.1" height="31.4" fill="#6cb043" stroke="#4a8a2c" stroke-width="0.5"/>
<line x1="304.07" y1="515.5" x2="304.07" y2="506.9" stroke="#151515" stroke-width="1.2"/>
<rect x="302.47" y="506.5" width="3.2" height="1.5" fill="#151515"/>
<rect x="309.42" y="540.6" width="5.1" height="5.8" fill="#4e535d" stroke="#30333a" stroke-width="0.5"/>
<line x1="311.97" y1="541.1" x2="311.97" y2="539.8" stroke="#151515" stroke-width="1.2"/>
<rect x="310.37" y="539.4" width="3.2" height="1.5" fill="#151515"/>
<rect x="320.06" y="516.9" width="5.1" height="29.5" fill="#6cb043" stroke="#4a8a2c" stroke-width="0.5"/>
<line x1="322.61" y1="517.4" x2="322.61" y2="511.3" stroke="#151515" stroke-width="1.2"/>
<rect x="321.01" y="510.9" width="3.2" height="1.5" fill="#151515"/>
<rect x="327.96" y="541.4" width="5.1" height="5" fill="#4e535d" stroke="#30333a" stroke-width="0.5"/>
<line x1="330.51" y1="541.9" x2="330.51" y2="540.6" stroke="#151515" stroke-width="1.2"/>
<rect x="328.91" y="540.2" width="3.2" height="1.5" fill="#151515"/>
<rect x="338.6" y="529.8" width="5.1" height="16.6" fill="#6cb043" stroke="#4a8a2c" stroke-width="0.5"/>
<line x1="341.15" y1="530.3" x2="341.15" y2="527.5" stroke="#151515" stroke-width="1.2"/>
<rect x="339.55" y="527.1" width="3.2" height="1.5" fill="#151515"/>
<rect x="346.5" y="540.8" width="5.1" height="5.6" fill="#4e535d" stroke="#30333a" stroke-width="0.5"/>
<line x1="349.05" y1="541.3" x2="349.05" y2="540" stroke="#151515" stroke-width="1.2"/>
<rect x="347.45" y="539.6" width="3.2" height="1.5" fill="#151515"/>
<rect x="357.14" y="532.3" width="5.1" height="14.1" fill="#6cb043" stroke="#4a8a2c" stroke-width="0.5"/>
<line x1="359.69" y1="532.8" x2="359.69" y2="531.2" stroke="#151515" stroke-width="1.2"/>
<rect x="358.09" y="530.8" width="3.2" height="1.5" fill="#151515"/>
<rect x="365.04" y="541" width="5.1" height="5.4" fill="#4e535d" stroke="#30333a" stroke-width="0.5"/>
<line x1="367.59" y1="541.5" x2="367.59" y2="540.2" stroke="#151515" stroke-width="1.2"/>
<rect x="365.99" y="539.8" width="3.2" height="1.5" fill="#151515"/>
<rect x="375.68" y="539" width="5.1" height="7.4" fill="#6cb043" stroke="#4a8a2c" stroke-width="0.5"/>
<line x1="378.23" y1="539.5" x2="378.23" y2="537.5" stroke="#151515" stroke-width="1.2"/>
<rect x="376.63" y="537.1" width="3.2" height="1.5" fill="#151515"/>
<rect x="383.58" y="540" width="5.1" height="6.4" fill="#4e535d" stroke="#30333a" stroke-width="0.5"/>
<line x1="386.13" y1="540.5" x2="386.13" y2="539" stroke="#151515" stroke-width="1.2"/>
<rect x="384.53" y="538.6" width="3.2" height="1.5" fill="#151515"/>
<rect x="394.22" y="540.8" width="5.1" height="5.6" fill="#6cb043" stroke="#4a8a2c" stroke-width="0.5"/>
<line x1="396.77" y1="541.3" x2="396.77" y2="540" stroke="#151515" stroke-width="1.2"/>
<rect x="395.17" y="539.6" width="3.2" height="1.5" fill="#151515"/>
<rect x="402.12" y="540" width="5.1" height="6.4" fill="#4e535d" stroke="#30333a" stroke-width="0.5"/>
<line x1="404.67" y1="540.5" x2="404.67" y2="538.5" stroke="#151515" stroke-width="1.2"/>
<rect x="403.07" y="538.1" width="3.2" height="1.5" fill="#151515"/>
<rect x="412.76" y="541.3" width="5.1" height="5.1" fill="#6cb043" stroke="#4a8a2c" stroke-width="0.5"/>
<line x1="415.31" y1="541.8" x2="415.31" y2="540.5" stroke="#151515" stroke-width="1.2"/>
<rect x="413.71" y="540.1" width="3.2" height="1.5" fill="#151515"/>
<rect x="420.66" y="539.6" width="5.1" height="6.8" fill="#4e535d" stroke="#30333a" stroke-width="0.5"/>
<line x1="423.21" y1="540.1" x2="423.21" y2="538.8" stroke="#151515" stroke-width="1.2"/>
<rect x="421.61" y="538.4" width="3.2" height="1.5" fill="#151515"/>
<rect x="431.3" y="541.7" width="5.1" height="4.7" fill="#6cb043" stroke="#4a8a2c" stroke-width="0.5"/>
<line x1="433.85" y1="542.2" x2="433.85" y2="540.9" stroke="#151515" stroke-width="1.2"/>
<rect x="432.25" y="540.5" width="3.2" height="1.5" fill="#151515"/>
<rect x="439.2" y="539.6" width="5.1" height="6.8" fill="#4e535d" stroke="#30333a" stroke-width="0.5"/>
<line x1="441.75" y1="540.1" x2="441.75" y2="537.1" stroke="#151515" stroke-width="1.2"/>
<rect x="440.15" y="536.7" width="3.2" height="1.5" fill="#151515"/>
<rect x="449.84" y="541.3" width="5.1" height="5.1" fill="#6cb043" stroke="#4a8a2c" stroke-width="0.5"/>
<line x1="452.39" y1="541.8" x2="452.39" y2="540.5" stroke="#151515" stroke-width="1.2"/>
<rect x="450.79" y="540.1" width="3.2" height="1.5" fill="#151515"/>
<rect x="457.74" y="539.6" width="5.1" height="6.8" fill="#4e535d" stroke="#30333a" stroke-width="0.5"/>
<line x1="460.29" y1="540.1" x2="460.29" y2="537.1" stroke="#151515" stroke-width="1.2"/>
<rect x="458.69" y="536.7" width="3.2" height="1.5" fill="#151515"/>
<rect x="468.38" y="541.3" width="5.1" height="5.1" fill="#6cb043" stroke="#4a8a2c" stroke-width="0.5"/>
<line x1="470.93" y1="541.8" x2="470.93" y2="540.5" stroke="#151515" stroke-width="1.2"/>
<rect x="469.33" y="540.1" width="3.2" height="1.5" fill="#151515"/>
<rect x="476.28" y="541.3" width="5.1" height="5.1" fill="#4e535d" stroke="#30333a" stroke-width="0.5"/>
<line x1="478.83" y1="541.8" x2="478.83" y2="540.5" stroke="#151515" stroke-width="1.2"/>
<rect x="477.23" y="540.1" width="3.2" height="1.5" fill="#151515"/>
<rect x="486.92" y="540.3" width="5.1" height="6.1" fill="#6cb043" stroke="#4a8a2c" stroke-width="0.5"/>
<line x1="489.47" y1="540.8" x2="489.47" y2="538.6" stroke="#151515" stroke-width="1.2"/>
<rect x="487.87" y="538.2" width="3.2" height="1.5" fill="#151515"/>
<rect x="494.82" y="539.6" width="5.1" height="6.8" fill="#4e535d" stroke="#30333a" stroke-width="0.5"/>
<line x1="497.37" y1="540.1" x2="497.37" y2="538.8" stroke="#151515" stroke-width="1.2"/>
<rect x="495.77" y="538.4" width="3.2" height="1.5" fill="#151515"/>
<line x1="57.8" y1="477.8" x2="57.8" y2="547.2" stroke="#1a1a1a" stroke-width="1.8"/>
<line x1="53.4" y1="525" x2="57.8" y2="525" stroke="#1a1a1a" stroke-width="1.3"/>
<line x1="53.4" y1="503.6" x2="57.8" y2="503.6" stroke="#1a1a1a" stroke-width="1.3"/>
<line x1="53.4" y1="482.2" x2="57.8" y2="482.2" stroke="#1a1a1a" stroke-width="1.3"/>
<text x="49.2" y="548.4" font-size="6.35" text-anchor="end" fill="#1a1a1a" letter-spacing="0.25" style="stroke-width:0.2px">0</text>
<text x="49.2" y="527" font-size="6.35" text-anchor="end" fill="#1a1a1a" letter-spacing="0.25" style="stroke-width:0.2px">500</text>
<text x="49.2" y="505.6" font-size="6.35" text-anchor="end" fill="#1a1a1a" letter-spacing="0.25" style="stroke-width:0.2px">1000</text>
<text x="49.2" y="484.2" font-size="6.35" text-anchor="end" fill="#1a1a1a" letter-spacing="0.25" style="stroke-width:0.2px">1500</text>
<line x1="53.4" y1="546.4" x2="503.9" y2="546.4" stroke="#1a1a1a" stroke-width="1.7"/>
<line x1="67" y1="546.4" x2="67" y2="550.6" stroke="#1a1a1a" stroke-width="1.3"/>
<text x="69.1" y="556.1" font-size="6" text-anchor="end" transform="rotate(-90 69.1 556.1)" fill="#1a1a1a">Day1 Pre Apix</text>
<line x1="85.54" y1="546.4" x2="85.54" y2="550.6" stroke="#1a1a1a" stroke-width="1.3"/>
<text x="87.64" y="556.1" font-size="6" text-anchor="end" transform="rotate(-90 87.64 556.1)" fill="#1a1a1a">Day2</text>
<line x1="104.08" y1="546.4" x2="104.08" y2="550.6" stroke="#1a1a1a" stroke-width="1.3"/>
<text x="106.18" y="556.1" font-size="6" text-anchor="end" transform="rotate(-90 106.18 556.1)" fill="#1a1a1a">Day3</text>
<line x1="122.62" y1="546.4" x2="122.62" y2="550.6" stroke="#1a1a1a" stroke-width="1.3"/>
<text x="124.72" y="556.1" font-size="6" text-anchor="end" transform="rotate(-90 124.72 556.1)" fill="#1a1a1a">Day4</text>
<line x1="141.16" y1="546.4" x2="141.16" y2="550.6" stroke="#1a1a1a" stroke-width="1.3"/>
<text x="143.26" y="556.1" font-size="6" text-anchor="end" transform="rotate(-90 143.26 556.1)" fill="#1a1a1a">Day5</text>
<line x1="159.7" y1="546.4" x2="159.7" y2="550.6" stroke="#1a1a1a" stroke-width="1.3"/>
<text x="161.8" y="556.1" font-size="6" text-anchor="end" transform="rotate(-90 161.8 556.1)" fill="#1a1a1a">Day6-Pre Apix</text>
<line x1="178.24" y1="546.4" x2="178.24" y2="550.6" stroke="#1a1a1a" stroke-width="1.3"/>
<text x="180.34" y="556.1" font-size="6" text-anchor="end" transform="rotate(-90 180.34 556.1)" fill="#1a1a1a">Day6-3hr Apix</text>
<line x1="196.78" y1="546.4" x2="196.78" y2="550.6" stroke="#1a1a1a" stroke-width="1.3"/>
<text x="198.88" y="556.1" font-size="6" text-anchor="end" transform="rotate(-90 198.88 556.1)" fill="#1a1a1a">0.16</text>
<line x1="215.32" y1="546.4" x2="215.32" y2="550.6" stroke="#1a1a1a" stroke-width="1.3"/>
<text x="217.42" y="556.1" font-size="6" text-anchor="end" transform="rotate(-90 217.42 556.1)" fill="#1a1a1a">0.5</text>
<line x1="233.86" y1="546.4" x2="233.86" y2="550.6" stroke="#1a1a1a" stroke-width="1.3"/>
<text x="235.96" y="556.1" font-size="6" text-anchor="end" transform="rotate(-90 235.96 556.1)" fill="#1a1a1a">1.5</text>
<line x1="252.4" y1="546.4" x2="252.4" y2="550.6" stroke="#1a1a1a" stroke-width="1.3"/>
<text x="254.5" y="556.1" font-size="6" text-anchor="end" transform="rotate(-90 254.5 556.1)" fill="#1a1a1a">2.5</text>
<line x1="270.94" y1="546.4" x2="270.94" y2="550.6" stroke="#1a1a1a" stroke-width="1.3"/>
<text x="273.04" y="556.1" font-size="6" text-anchor="end" transform="rotate(-90 273.04 556.1)" fill="#1a1a1a">4.5</text>
<line x1="289.48" y1="546.4" x2="289.48" y2="550.6" stroke="#1a1a1a" stroke-width="1.3"/>
<text x="291.58" y="556.1" font-size="6" text-anchor="end" transform="rotate(-90 291.58 556.1)" fill="#1a1a1a">6.5</text>
<line x1="308.02" y1="546.4" x2="308.02" y2="550.6" stroke="#1a1a1a" stroke-width="1.3"/>
<text x="310.12" y="556.1" font-size="6" text-anchor="end" transform="rotate(-90 310.12 556.1)" fill="#1a1a1a">8.5</text>
<line x1="326.56" y1="546.4" x2="326.56" y2="550.6" stroke="#1a1a1a" stroke-width="1.3"/>
<text x="328.66" y="556.1" font-size="6" text-anchor="end" transform="rotate(-90 328.66 556.1)" fill="#1a1a1a">21</text>
<line x1="345.1" y1="546.4" x2="345.1" y2="550.6" stroke="#1a1a1a" stroke-width="1.3"/>
<text x="347.2" y="556.1" font-size="6" text-anchor="end" transform="rotate(-90 347.2 556.1)" fill="#1a1a1a">33</text>
<line x1="363.64" y1="546.4" x2="363.64" y2="550.6" stroke="#1a1a1a" stroke-width="1.3"/>
<text x="365.74" y="556.1" font-size="6" text-anchor="end" transform="rotate(-90 365.74 556.1)" fill="#1a1a1a">Day8</text>
<line x1="382.18" y1="546.4" x2="382.18" y2="550.6" stroke="#1a1a1a" stroke-width="1.3"/>
<text x="384.28" y="556.1" font-size="6" text-anchor="end" transform="rotate(-90 384.28 556.1)" fill="#1a1a1a">Day9</text>
<line x1="400.72" y1="546.4" x2="400.72" y2="550.6" stroke="#1a1a1a" stroke-width="1.3"/>
<text x="402.82" y="556.1" font-size="6" text-anchor="end" transform="rotate(-90 402.82 556.1)" fill="#1a1a1a">Day10</text>
<line x1="419.26" y1="546.4" x2="419.26" y2="550.6" stroke="#1a1a1a" stroke-width="1.3"/>
<text x="421.36" y="556.1" font-size="6" text-anchor="end" transform="rotate(-90 421.36 556.1)" fill="#1a1a1a">Day11</text>
<line x1="437.8" y1="546.4" x2="437.8" y2="550.6" stroke="#1a1a1a" stroke-width="1.3"/>
<text x="439.9" y="556.1" font-size="6" text-anchor="end" transform="rotate(-90 439.9 556.1)" fill="#1a1a1a">Day13</text>
<line x1="456.34" y1="546.4" x2="456.34" y2="550.6" stroke="#1a1a1a" stroke-width="1.3"/>
<text x="458.44" y="556.1" font-size="6" text-anchor="end" transform="rotate(-90 458.44 556.1)" fill="#1a1a1a">Day20</text>
<line x1="474.88" y1="546.4" x2="474.88" y2="550.6" stroke="#1a1a1a" stroke-width="1.3"/>
<text x="476.98" y="556.1" font-size="6" text-anchor="end" transform="rotate(-90 476.98 556.1)" fill="#1a1a1a">Day34</text>
<line x1="493.42" y1="546.4" x2="493.42" y2="550.6" stroke="#1a1a1a" stroke-width="1.3"/>
<text x="495.52" y="556.1" font-size="6" text-anchor="end" transform="rotate(-90 495.52 556.1)" fill="#1a1a1a">Day48</text>
<text x="25.3" y="512.5" font-size="7.4" text-anchor="middle" transform="rotate(-90 25.3 512.5)" fill="#1a1a1a" style="stroke-width:0.3px">F1+2 (pmol/L)</text>
<line x1="187.9" y1="573.1" x2="349.8" y2="573.1" stroke="#1a1a1a" stroke-width="1.2"/>
<text x="269" y="582.7" font-size="6.05" text-anchor="middle" fill="#1a1a1a">Post Andexanet (h)</text>
<text x="170.8" y="484.6" font-size="6.1" text-anchor="start" fill="#1a1a1a">End of Bolus</text>
<line x1="187.9" y1="485.6" x2="187.9" y2="492.6" stroke="#1a1a1a" stroke-width="1.4"/>
<path d="M184.7 490.6 L187.9 492.6 L191.1 490.6 L187.9 499 Z" fill="#1a1a1a"/>
<rect x="363.3" y="477" width="10.3" height="4" fill="#6cb043" stroke="#4a8a2c" stroke-width="0.4"/>
<text x="378.1" y="481.2" font-size="6" text-anchor="start" fill="#1a1a1a" letter-spacing="0.2" style="stroke-width:0.05px">420 mg [Cohort 3] (N=6)</text>
<rect x="363.3" y="488.8" width="10.3" height="4" fill="#4e535d" stroke="#30333a" stroke-width="0.4"/>
<text x="378.1" y="493" font-size="6" text-anchor="start" fill="#1a1a1a" letter-spacing="0.2" style="stroke-width:0.05px">Placebo [Cohort 3] (N=3)</text>
<line x1="57.8" y1="668.9" x2="494.8" y2="668.9" stroke="#6a6a6a" stroke-width="1.1" stroke-dasharray="3.4,0.45"/>
<rect x="59.5" y="672.7" width="4.5" height="7.3" fill="#4a216c" stroke="#2d1145" stroke-width="0.5"/>
<line x1="61.75" y1="673.2" x2="61.75" y2="670.8" stroke="#151515" stroke-width="1.2"/>
<rect x="60.15" y="670.4" width="3.2" height="1.5" fill="#151515"/>
<rect x="66.8" y="673.1" width="4.5" height="6.9" fill="#4e535d" stroke="#30333a" stroke-width="0.5"/>
<line x1="69.05" y1="673.6" x2="69.05" y2="670.8" stroke="#151515" stroke-width="1.2"/>
<rect x="67.45" y="670.4" width="3.2" height="1.5" fill="#151515"/>
<rect x="76.4" y="674" width="4.5" height="6" fill="#4a216c" stroke="#2d1145" stroke-width="0.5"/>
<line x1="78.65" y1="674.5" x2="78.65" y2="672.5" stroke="#151515" stroke-width="1.2"/>
<rect x="77.05" y="672.1" width="3.2" height="1.5" fill="#151515"/>
<rect x="83.7" y="676.9" width="4.5" height="3.1" fill="#4e535d" stroke="#30333a" stroke-width="0.5"/>
<line x1="85.95" y1="677.4" x2="85.95" y2="676.1" stroke="#151515" stroke-width="1.2"/>
<rect x="84.35" y="675.7" width="3.2" height="1.5" fill="#151515"/>
<rect x="93.3" y="675.6" width="4.5" height="4.4" fill="#4a216c" stroke="#2d1145" stroke-width="0.5"/>
<line x1="95.55" y1="676.1" x2="95.55" y2="674.8" stroke="#151515" stroke-width="1.2"/>
<rect x="93.95" y="674.4" width="3.2" height="1.5" fill="#151515"/>
<rect x="100.6" y="675.6" width="4.5" height="4.4" fill="#4e535d" stroke="#30333a" stroke-width="0.5"/>
<line x1="102.85" y1="676.1" x2="102.85" y2="674.8" stroke="#151515" stroke-width="1.2"/>
<rect x="101.25" y="674.4" width="3.2" height="1.5" fill="#151515"/>
<rect x="110.2" y="675.6" width="4.5" height="4.4" fill="#4a216c" stroke="#2d1145" stroke-width="0.5"/>
<line x1="112.45" y1="676.1" x2="112.45" y2="674.8" stroke="#151515" stroke-width="1.2"/>
<rect x="110.85" y="674.4" width="3.2" height="1.5" fill="#151515"/>
<rect x="117.5" y="676.3" width="4.5" height="3.7" fill="#4e535d" stroke="#30333a" stroke-width="0.5"/>
<line x1="119.75" y1="676.8" x2="119.75" y2="675.5" stroke="#151515" stroke-width="1.2"/>
<rect x="118.15" y="675.1" width="3.2" height="1.5" fill="#151515"/>
<rect x="127.1" y="675.6" width="4.5" height="4.4" fill="#4a216c" stroke="#2d1145" stroke-width="0.5"/>
<line x1="129.35" y1="676.1" x2="129.35" y2="674.8" stroke="#151515" stroke-width="1.2"/>
<rect x="127.75" y="674.4" width="3.2" height="1.5" fill="#151515"/>
<rect x="134.4" y="676" width="4.5" height="4" fill="#4e535d" stroke="#30333a" stroke-width="0.5"/>
<line x1="136.65" y1="676.5" x2="136.65" y2="675.2" stroke="#151515" stroke-width="1.2"/>
<rect x="135.05" y="674.8" width="3.2" height="1.5" fill="#151515"/>
<rect x="144" y="674.2" width="4.5" height="5.8" fill="#4a216c" stroke="#2d1145" stroke-width="0.5"/>
<line x1="146.25" y1="674.7" x2="146.25" y2="672.7" stroke="#151515" stroke-width="1.2"/>
<rect x="144.65" y="672.3" width="3.2" height="1.5" fill="#151515"/>
<rect x="151.3" y="676" width="4.5" height="4" fill="#4e535d" stroke="#30333a" stroke-width="0.5"/>
<line x1="153.55" y1="676.5" x2="153.55" y2="675.2" stroke="#151515" stroke-width="1.2"/>
<rect x="151.95" y="674.8" width="3.2" height="1.5" fill="#151515"/>
<rect x="160.9" y="675.4" width="4.5" height="4.6" fill="#4a216c" stroke="#2d1145" stroke-width="0.5"/>
<line x1="163.15" y1="675.9" x2="163.15" y2="674.6" stroke="#151515" stroke-width="1.2"/>
<rect x="161.55" y="674.2" width="3.2" height="1.5" fill="#151515"/>
<rect x="168.2" y="676.3" width="4.5" height="3.7" fill="#4e535d" stroke="#30333a" stroke-width="0.5"/>
<line x1="170.45" y1="676.8" x2="170.45" y2="675.5" stroke="#151515" stroke-width="1.2"/>
<rect x="168.85" y="675.1" width="3.2" height="1.5" fill="#151515"/>
<rect x="177.8" y="668.3" width="4.5" height="11.7" fill="#4a216c" stroke="#2d1145" stroke-width="0.5"/>
<line x1="180.05" y1="668.8" x2="180.05" y2="664.8" stroke="#151515" stroke-width="1.2"/>
<rect x="178.45" y="664.4" width="3.2" height="1.5" fill="#151515"/>
<rect x="185.1" y="673.7" width="4.5" height="6.3" fill="#4e535d" stroke="#30333a" stroke-width="0.5"/>
<line x1="187.35" y1="674.2" x2="187.35" y2="672.1" stroke="#151515" stroke-width="1.2"/>
<rect x="185.75" y="671.7" width="3.2" height="1.5" fill="#151515"/>
<rect x="194.7" y="667.7" width="4.5" height="12.3" fill="#4a216c" stroke="#2d1145" stroke-width="0.5"/>
<line x1="196.95" y1="668.2" x2="196.95" y2="665.8" stroke="#151515" stroke-width="1.2"/>
<rect x="195.35" y="665.4" width="3.2" height="1.5" fill="#151515"/>
<rect x="202" y="676" width="4.5" height="4" fill="#4e535d" stroke="#30333a" stroke-width="0.5"/>
<line x1="204.25" y1="676.5" x2="204.25" y2="675.2" stroke="#151515" stroke-width="1.2"/>
<rect x="202.65" y="674.8" width="3.2" height="1.5" fill="#151515"/>
<rect x="211.6" y="657.1" width="4.5" height="22.9" fill="#4a216c" stroke="#2d1145" stroke-width="0.5"/>
<line x1="213.85" y1="657.6" x2="213.85" y2="654.8" stroke="#151515" stroke-width="1.2"/>
<rect x="212.25" y="654.4" width="3.2" height="1.5" fill="#151515"/>
<rect x="218.9" y="676.5" width="4.5" height="3.5" fill="#4e535d" stroke="#30333a" stroke-width="0.5"/>
<line x1="221.15" y1="677" x2="221.15" y2="675.7" stroke="#151515" stroke-width="1.2"/>
<rect x="219.55" y="675.3" width="3.2" height="1.5" fill="#151515"/>
<rect x="228.5" y="655.7" width="4.5" height="24.3" fill="#4a216c" stroke="#2d1145" stroke-width="0.5"/>
<line x1="230.75" y1="656.2" x2="230.75" y2="652.1" stroke="#151515" stroke-width="1.2"/>
<rect x="229.15" y="651.7" width="3.2" height="1.5" fill="#151515"/>
<rect x="235.8" y="675.4" width="4.5" height="4.6" fill="#4e535d" stroke="#30333a" stroke-width="0.5"/>
<line x1="238.05" y1="675.9" x2="238.05" y2="674.6" stroke="#151515" stroke-width="1.2"/>
<rect x="236.45" y="674.2" width="3.2" height="1.5" fill="#151515"/>
<rect x="245.4" y="646.5" width="4.5" height="33.5" fill="#4a216c" stroke="#2d1145" stroke-width="0.5"/>
<line x1="247.65" y1="647" x2="247.65" y2="642.7" stroke="#151515" stroke-width="1.2"/>
<rect x="246.05" y="642.3" width="3.2" height="1.5" fill="#151515"/>
<rect x="252.7" y="675.2" width="4.5" height="4.8" fill="#4e535d" stroke="#30333a" stroke-width="0.5"/>
<line x1="254.95" y1="675.7" x2="254.95" y2="674.4" stroke="#151515" stroke-width="1.2"/>
<rect x="253.35" y="674" width="3.2" height="1.5" fill="#151515"/>
<rect x="262.3" y="647.3" width="4.5" height="32.7" fill="#4a216c" stroke="#2d1145" stroke-width="0.5"/>
<line x1="264.55" y1="647.8" x2="264.55" y2="642.7" stroke="#151515" stroke-width="1.2"/>
<rect x="262.95" y="642.3" width="3.2" height="1.5" fill="#151515"/>
<rect x="269.6" y="675.8" width="4.5" height="4.2" fill="#4e535d" stroke="#30333a" stroke-width="0.5"/>
<line x1="271.85" y1="676.3" x2="271.85" y2="675" stroke="#151515" stroke-width="1.2"/>
<rect x="270.25" y="674.6" width="3.2" height="1.5" fill="#151515"/>
<rect x="279.2" y="649.2" width="4.5" height="30.8" fill="#4a216c" stroke="#2d1145" stroke-width="0.5"/>
<line x1="281.45" y1="649.7" x2="281.45" y2="642.1" stroke="#151515" stroke-width="1.2"/>
<rect x="279.85" y="641.7" width="3.2" height="1.5" fill="#151515"/>
<rect x="286.5" y="675.8" width="4.5" height="4.2" fill="#4e535d" stroke="#30333a" stroke-width="0.5"/>
<line x1="288.75" y1="676.3" x2="288.75" y2="675" stroke="#151515" stroke-width="1.2"/>
<rect x="287.15" y="674.6" width="3.2" height="1.5" fill="#151515"/>
<rect x="296.1" y="649.2" width="4.5" height="30.8" fill="#4a216c" stroke="#2d1145" stroke-width="0.5"/>
<line x1="298.35" y1="649.7" x2="298.35" y2="645.4" stroke="#151515" stroke-width="1.2"/>
<rect x="296.75" y="645" width="3.2" height="1.5" fill="#151515"/>
<rect x="303.4" y="676.2" width="4.5" height="3.8" fill="#4e535d" stroke="#30333a" stroke-width="0.5"/>
<line x1="305.65" y1="676.7" x2="305.65" y2="675.4" stroke="#151515" stroke-width="1.2"/>
<rect x="304.05" y="675" width="3.2" height="1.5" fill="#151515"/>
<rect x="313" y="644.8" width="4.5" height="35.2" fill="#4a216c" stroke="#2d1145" stroke-width="0.5"/>
<line x1="315.25" y1="645.3" x2="315.25" y2="635.4" stroke="#151515" stroke-width="1.2"/>
<rect x="313.65" y="635" width="3.2" height="1.5" fill="#151515"/>
<rect x="320.3" y="674.8" width="4.5" height="5.2" fill="#4e535d" stroke="#30333a" stroke-width="0.5"/>
<line x1="322.55" y1="675.3" x2="322.55" y2="674" stroke="#151515" stroke-width="1.2"/>
<rect x="320.95" y="673.6" width="3.2" height="1.5" fill="#151515"/>
<rect x="329.9" y="652.3" width="4.5" height="27.7" fill="#4a216c" stroke="#2d1145" stroke-width="0.5"/>
<line x1="332.15" y1="652.8" x2="332.15" y2="649.8" stroke="#151515" stroke-width="1.2"/>
<rect x="330.55" y="649.4" width="3.2" height="1.5" fill="#151515"/>
<rect x="337.2" y="676.3" width="4.5" height="3.7" fill="#4e535d" stroke="#30333a" stroke-width="0.5"/>
<line x1="339.45" y1="676.8" x2="339.45" y2="675.5" stroke="#151515" stroke-width="1.2"/>
<rect x="337.85" y="675.1" width="3.2" height="1.5" fill="#151515"/>
<rect x="346.8" y="639.2" width="4.5" height="40.8" fill="#4a216c" stroke="#2d1145" stroke-width="0.5"/>
<line x1="349.05" y1="639.7" x2="349.05" y2="629.6" stroke="#151515" stroke-width="1.2"/>
<rect x="347.45" y="629.2" width="3.2" height="1.5" fill="#151515"/>
<rect x="354.1" y="676.2" width="4.5" height="3.8" fill="#4e535d" stroke="#30333a" stroke-width="0.5"/>
<line x1="356.35" y1="676.7" x2="356.35" y2="675.4" stroke="#151515" stroke-width="1.2"/>
<rect x="354.75" y="675" width="3.2" height="1.5" fill="#151515"/>
<rect x="363.7" y="653.7" width="4.5" height="26.3" fill="#4a216c" stroke="#2d1145" stroke-width="0.5"/>
<line x1="365.95" y1="654.2" x2="365.95" y2="642.1" stroke="#151515" stroke-width="1.2"/>
<rect x="364.35" y="641.7" width="3.2" height="1.5" fill="#151515"/>
<rect x="371" y="675.2" width="4.5" height="4.8" fill="#4e535d" stroke="#30333a" stroke-width="0.5"/>
<line x1="373.25" y1="675.7" x2="373.25" y2="674.4" stroke="#151515" stroke-width="1.2"/>
<rect x="371.65" y="674" width="3.2" height="1.5" fill="#151515"/>
<rect x="380.6" y="669" width="4.5" height="11" fill="#4a216c" stroke="#2d1145" stroke-width="0.5"/>
<line x1="382.85" y1="669.5" x2="382.85" y2="666.2" stroke="#151515" stroke-width="1.2"/>
<rect x="381.25" y="665.8" width="3.2" height="1.5" fill="#151515"/>
<rect x="387.9" y="674.8" width="4.5" height="5.2" fill="#4e535d" stroke="#30333a" stroke-width="0.5"/>
<line x1="390.15" y1="675.3" x2="390.15" y2="674" stroke="#151515" stroke-width="1.2"/>
<rect x="388.55" y="673.6" width="3.2" height="1.5" fill="#151515"/>
<rect x="397.5" y="671.7" width="4.5" height="8.3" fill="#4a216c" stroke="#2d1145" stroke-width="0.5"/>
<line x1="399.75" y1="672.2" x2="399.75" y2="670.4" stroke="#151515" stroke-width="1.2"/>
<rect x="398.15" y="670" width="3.2" height="1.5" fill="#151515"/>
<rect x="404.8" y="672.1" width="4.5" height="7.9" fill="#4e535d" stroke="#30333a" stroke-width="0.5"/>
<line x1="407.05" y1="672.6" x2="407.05" y2="671.3" stroke="#151515" stroke-width="1.2"/>
<rect x="405.45" y="670.9" width="3.2" height="1.5" fill="#151515"/>
<rect x="414.4" y="669.1" width="4.5" height="10.9" fill="#4a216c" stroke="#2d1145" stroke-width="0.5"/>
<line x1="416.65" y1="669.6" x2="416.65" y2="666.4" stroke="#151515" stroke-width="1.2"/>
<rect x="415.05" y="666" width="3.2" height="1.5" fill="#151515"/>
<rect x="421.7" y="672.7" width="4.5" height="7.3" fill="#4e535d" stroke="#30333a" stroke-width="0.5"/>
<line x1="423.95" y1="673.2" x2="423.95" y2="671.9" stroke="#151515" stroke-width="1.2"/>
<rect x="422.35" y="671.5" width="3.2" height="1.5" fill="#151515"/>
<rect x="431.3" y="672.3" width="4.5" height="7.7" fill="#4a216c" stroke="#2d1145" stroke-width="0.5"/>
<line x1="433.55" y1="672.8" x2="433.55" y2="671.5" stroke="#151515" stroke-width="1.2"/>
<rect x="431.95" y="671.1" width="3.2" height="1.5" fill="#151515"/>
<rect x="438.6" y="674" width="4.5" height="6" fill="#4e535d" stroke="#30333a" stroke-width="0.5"/>
<line x1="440.85" y1="674.5" x2="440.85" y2="673.2" stroke="#151515" stroke-width="1.2"/>
<rect x="439.25" y="672.8" width="3.2" height="1.5" fill="#151515"/>
<rect x="448.2" y="667.7" width="4.5" height="12.3" fill="#4a216c" stroke="#2d1145" stroke-width="0.5"/>
<line x1="450.45" y1="668.2" x2="450.45" y2="661.3" stroke="#151515" stroke-width="1.2"/>
<rect x="448.85" y="660.9" width="3.2" height="1.5" fill="#151515"/>
<rect x="455.5" y="672.7" width="4.5" height="7.3" fill="#4e535d" stroke="#30333a" stroke-width="0.5"/>
<line x1="457.75" y1="673.2" x2="457.75" y2="671.9" stroke="#151515" stroke-width="1.2"/>
<rect x="456.15" y="671.5" width="3.2" height="1.5" fill="#151515"/>
<rect x="465.1" y="672.3" width="4.5" height="7.7" fill="#4a216c" stroke="#2d1145" stroke-width="0.5"/>
<line x1="467.35" y1="672.8" x2="467.35" y2="671.3" stroke="#151515" stroke-width="1.2"/>
<rect x="465.75" y="670.9" width="3.2" height="1.5" fill="#151515"/>
<rect x="472.4" y="673.4" width="4.5" height="6.6" fill="#4e535d" stroke="#30333a" stroke-width="0.5"/>
<line x1="474.65" y1="673.9" x2="474.65" y2="672.6" stroke="#151515" stroke-width="1.2"/>
<rect x="473.05" y="672.2" width="3.2" height="1.5" fill="#151515"/>
<rect x="482" y="672.3" width="4.5" height="7.7" fill="#4a216c" stroke="#2d1145" stroke-width="0.5"/>
<line x1="484.25" y1="672.8" x2="484.25" y2="671.5" stroke="#151515" stroke-width="1.2"/>
<rect x="482.65" y="671.1" width="3.2" height="1.5" fill="#151515"/>
<rect x="489.3" y="673.4" width="4.5" height="6.6" fill="#4e535d" stroke="#30333a" stroke-width="0.5"/>
<line x1="491.55" y1="673.9" x2="491.55" y2="672.6" stroke="#151515" stroke-width="1.2"/>
<rect x="489.95" y="672.2" width="3.2" height="1.5" fill="#151515"/>
<line x1="57.8" y1="611.8" x2="57.8" y2="680.8" stroke="#1a1a1a" stroke-width="1.8"/>
<line x1="53.4" y1="658.73" x2="57.8" y2="658.73" stroke="#1a1a1a" stroke-width="1.3"/>
<line x1="53.4" y1="637.47" x2="57.8" y2="637.47" stroke="#1a1a1a" stroke-width="1.3"/>
<line x1="53.4" y1="616.2" x2="57.8" y2="616.2" stroke="#1a1a1a" stroke-width="1.3"/>
<text x="49.2" y="682" font-size="6.35" text-anchor="end" fill="#1a1a1a" letter-spacing="0.25" style="stroke-width:0.2px">0</text>
<text x="49.2" y="660.73" font-size="6.35" text-anchor="end" fill="#1a1a1a" letter-spacing="0.25" style="stroke-width:0.2px">500</text>
<text x="49.2" y="639.47" font-size="6.35" text-anchor="end" fill="#1a1a1a" letter-spacing="0.25" style="stroke-width:0.2px">1000</text>
<text x="49.2" y="618.2" font-size="6.35" text-anchor="end" fill="#1a1a1a" letter-spacing="0.25" style="stroke-width:0.2px">1500</text>
<line x1="53.4" y1="680" x2="497.7" y2="680" stroke="#1a1a1a" stroke-width="1.7"/>
<line x1="65.4" y1="680" x2="65.4" y2="684.2" stroke="#1a1a1a" stroke-width="1.3"/>
<text x="67.5" y="689.7" font-size="6" text-anchor="end" transform="rotate(-90 67.5 689.7)" fill="#1a1a1a">Day1 Pre Apix</text>
<line x1="82.3" y1="680" x2="82.3" y2="684.2" stroke="#1a1a1a" stroke-width="1.3"/>
<text x="84.4" y="689.7" font-size="6" text-anchor="end" transform="rotate(-90 84.4 689.7)" fill="#1a1a1a">Day2</text>
<line x1="99.2" y1="680" x2="99.2" y2="684.2" stroke="#1a1a1a" stroke-width="1.3"/>
<text x="101.3" y="689.7" font-size="6" text-anchor="end" transform="rotate(-90 101.3 689.7)" fill="#1a1a1a">Day3</text>
<line x1="116.1" y1="680" x2="116.1" y2="684.2" stroke="#1a1a1a" stroke-width="1.3"/>
<text x="118.2" y="689.7" font-size="6" text-anchor="end" transform="rotate(-90 118.2 689.7)" fill="#1a1a1a">Day4</text>
<line x1="133" y1="680" x2="133" y2="684.2" stroke="#1a1a1a" stroke-width="1.3"/>
<text x="135.1" y="689.7" font-size="6" text-anchor="end" transform="rotate(-90 135.1 689.7)" fill="#1a1a1a">Day5</text>
<line x1="149.9" y1="680" x2="149.9" y2="684.2" stroke="#1a1a1a" stroke-width="1.3"/>
<text x="152" y="689.7" font-size="6" text-anchor="end" transform="rotate(-90 152 689.7)" fill="#1a1a1a">Day6-Pre Apix</text>
<line x1="166.8" y1="680" x2="166.8" y2="684.2" stroke="#1a1a1a" stroke-width="1.3"/>
<text x="168.9" y="689.7" font-size="6" text-anchor="end" transform="rotate(-90 168.9 689.7)" fill="#1a1a1a">Day6-3hr Apix</text>
<line x1="183.7" y1="680" x2="183.7" y2="684.2" stroke="#1a1a1a" stroke-width="1.3"/>
<text x="185.8" y="689.7" font-size="6" text-anchor="end" transform="rotate(-90 185.8 689.7)" fill="#1a1a1a">0.02</text>
<line x1="200.6" y1="680" x2="200.6" y2="684.2" stroke="#1a1a1a" stroke-width="1.3"/>
<text x="202.7" y="689.7" font-size="6" text-anchor="end" transform="rotate(-90 202.7 689.7)" fill="#1a1a1a">0.25</text>
<line x1="217.5" y1="680" x2="217.5" y2="684.2" stroke="#1a1a1a" stroke-width="1.3"/>
<text x="219.6" y="689.7" font-size="6" text-anchor="end" transform="rotate(-90 219.6 689.7)" fill="#1a1a1a">0.77</text>
<line x1="234.4" y1="680" x2="234.4" y2="684.2" stroke="#1a1a1a" stroke-width="1.3"/>
<text x="236.5" y="689.7" font-size="6" text-anchor="end" transform="rotate(-90 236.5 689.7)" fill="#1a1a1a">0.92</text>
<line x1="251.3" y1="680" x2="251.3" y2="684.2" stroke="#1a1a1a" stroke-width="1.3"/>
<text x="253.4" y="689.7" font-size="6" text-anchor="end" transform="rotate(-90 253.4 689.7)" fill="#1a1a1a">1.25</text>
<line x1="268.2" y1="680" x2="268.2" y2="684.2" stroke="#1a1a1a" stroke-width="1.3"/>
<text x="270.3" y="689.7" font-size="6" text-anchor="end" transform="rotate(-90 270.3 689.7)" fill="#1a1a1a">2.5</text>
<line x1="285.1" y1="680" x2="285.1" y2="684.2" stroke="#1a1a1a" stroke-width="1.3"/>
<text x="287.2" y="689.7" font-size="6" text-anchor="end" transform="rotate(-90 287.2 689.7)" fill="#1a1a1a">4.5</text>
<line x1="302" y1="680" x2="302" y2="684.2" stroke="#1a1a1a" stroke-width="1.3"/>
<text x="304.1" y="689.7" font-size="6" text-anchor="end" transform="rotate(-90 304.1 689.7)" fill="#1a1a1a">6.5</text>
<line x1="318.9" y1="680" x2="318.9" y2="684.2" stroke="#1a1a1a" stroke-width="1.3"/>
<text x="321" y="689.7" font-size="6" text-anchor="end" transform="rotate(-90 321 689.7)" fill="#1a1a1a">8.5</text>
<line x1="335.8" y1="680" x2="335.8" y2="684.2" stroke="#1a1a1a" stroke-width="1.3"/>
<text x="337.9" y="689.7" font-size="6" text-anchor="end" transform="rotate(-90 337.9 689.7)" fill="#1a1a1a">21</text>
<line x1="352.7" y1="680" x2="352.7" y2="684.2" stroke="#1a1a1a" stroke-width="1.3"/>
<text x="354.8" y="689.7" font-size="6" text-anchor="end" transform="rotate(-90 354.8 689.7)" fill="#1a1a1a">33</text>
<line x1="369.6" y1="680" x2="369.6" y2="684.2" stroke="#1a1a1a" stroke-width="1.3"/>
<text x="371.7" y="689.7" font-size="6" text-anchor="end" transform="rotate(-90 371.7 689.7)" fill="#1a1a1a">Day8</text>
<line x1="386.5" y1="680" x2="386.5" y2="684.2" stroke="#1a1a1a" stroke-width="1.3"/>
<text x="388.6" y="689.7" font-size="6" text-anchor="end" transform="rotate(-90 388.6 689.7)" fill="#1a1a1a">Day9</text>
<line x1="403.4" y1="680" x2="403.4" y2="684.2" stroke="#1a1a1a" stroke-width="1.3"/>
<text x="405.5" y="689.7" font-size="6" text-anchor="end" transform="rotate(-90 405.5 689.7)" fill="#1a1a1a">Day10</text>
<line x1="420.3" y1="680" x2="420.3" y2="684.2" stroke="#1a1a1a" stroke-width="1.3"/>
<text x="422.4" y="689.7" font-size="6" text-anchor="end" transform="rotate(-90 422.4 689.7)" fill="#1a1a1a">Day11</text>
<line x1="437.2" y1="680" x2="437.2" y2="684.2" stroke="#1a1a1a" stroke-width="1.3"/>
<text x="439.3" y="689.7" font-size="6" text-anchor="end" transform="rotate(-90 439.3 689.7)" fill="#1a1a1a">Day13</text>
<line x1="454.1" y1="680" x2="454.1" y2="684.2" stroke="#1a1a1a" stroke-width="1.3"/>
<text x="456.2" y="689.7" font-size="6" text-anchor="end" transform="rotate(-90 456.2 689.7)" fill="#1a1a1a">Day20</text>
<line x1="471" y1="680" x2="471" y2="684.2" stroke="#1a1a1a" stroke-width="1.3"/>
<text x="473.1" y="689.7" font-size="6" text-anchor="end" transform="rotate(-90 473.1 689.7)" fill="#1a1a1a">Day34</text>
<line x1="487.9" y1="680" x2="487.9" y2="684.2" stroke="#1a1a1a" stroke-width="1.3"/>
<text x="490" y="689.7" font-size="6" text-anchor="end" transform="rotate(-90 490 689.7)" fill="#1a1a1a">Day48</text>
<text x="25.3" y="648.5" font-size="7.4" text-anchor="middle" transform="rotate(-90 25.3 648.5)" fill="#1a1a1a" style="stroke-width:0.3px">F1+2 (pmol/L)</text>
<line x1="176.7" y1="707.3" x2="360.3" y2="707.3" stroke="#1a1a1a" stroke-width="1.2"/>
<text x="269.1" y="716.3" font-size="6.05" text-anchor="middle" fill="#1a1a1a">Post Andexanet (h)</text>
<text x="148.4" y="618.3" font-size="6.1" text-anchor="start" fill="#1a1a1a">End of Bolus</text>
<line x1="174.4" y1="619.3" x2="174.4" y2="626.3" stroke="#1a1a1a" stroke-width="1.4"/>
<path d="M171.2 624.3 L174.4 626.3 L177.6 624.3 L174.4 632.7 Z" fill="#1a1a1a"/>
<text x="198" y="618.3" font-size="6.1" text-anchor="start" fill="#1a1a1a">End of Infusion</text>
<line x1="208.8" y1="619.3" x2="208.8" y2="626.3" stroke="#1a1a1a" stroke-width="1.4"/>
<path d="M205.6 624.3 L208.8 626.3 L212 624.3 L208.8 632.7 Z" fill="#1a1a1a"/>
<rect x="363.1" y="610.7" width="10.3" height="4" fill="#4a216c" stroke="#2d1145" stroke-width="0.4"/>
<text x="377.6" y="614.9" font-size="6" text-anchor="start" fill="#1a1a1a" letter-spacing="0.2" style="stroke-width:0.05px">420 mg/4 mg x 45min [Cohort 4] (N=6)</text>
<rect x="363.1" y="622.2" width="10.3" height="4" fill="#4e535d" stroke="#30333a" stroke-width="0.4"/>
<text x="377.6" y="626.4" font-size="6" text-anchor="start" fill="#1a1a1a" letter-spacing="0.2" style="stroke-width:0.05px">Placebo [Cohort 4] (N=3)</text>
<line x1="57.8" y1="800.5" x2="503.9" y2="800.5" stroke="#404048" stroke-width="1.1" stroke-dasharray="3.4,0.45"/>
<rect x="60.6" y="803.3" width="4.6" height="7.8" fill="#e0961f" stroke="#b07010" stroke-width="0.5"/>
<line x1="62.9" y1="803.8" x2="62.9" y2="802" stroke="#151515" stroke-width="1.2"/>
<rect x="61.3" y="801.6" width="3.2" height="1.5" fill="#151515"/>
<rect x="68" y="807.7" width="4.6" height="3.4" fill="#4e535d" stroke="#30333a" stroke-width="0.5"/>
<line x1="70.3" y1="808.2" x2="70.3" y2="806.9" stroke="#151515" stroke-width="1.2"/>
<rect x="68.7" y="806.5" width="3.2" height="1.5" fill="#151515"/>
<rect x="77.82" y="807.1" width="4.6" height="4" fill="#e0961f" stroke="#b07010" stroke-width="0.5"/>
<line x1="80.12" y1="807.6" x2="80.12" y2="806.3" stroke="#151515" stroke-width="1.2"/>
<rect x="78.52" y="805.9" width="3.2" height="1.5" fill="#151515"/>
<rect x="85.22" y="808.1" width="4.6" height="3" fill="#4e535d" stroke="#30333a" stroke-width="0.5"/>
<line x1="87.52" y1="808.6" x2="87.52" y2="807.3" stroke="#151515" stroke-width="1.2"/>
<rect x="85.92" y="806.9" width="3.2" height="1.5" fill="#151515"/>
<rect x="95.04" y="806.5" width="4.6" height="4.6" fill="#e0961f" stroke="#b07010" stroke-width="0.5"/>
<line x1="97.34" y1="807" x2="97.34" y2="805.7" stroke="#151515" stroke-width="1.2"/>
<rect x="95.74" y="805.3" width="3.2" height="1.5" fill="#151515"/>
<rect x="102.44" y="808.1" width="4.6" height="3" fill="#4e535d" stroke="#30333a" stroke-width="0.5"/>
<line x1="104.74" y1="808.6" x2="104.74" y2="807.3" stroke="#151515" stroke-width="1.2"/>
<rect x="103.14" y="806.9" width="3.2" height="1.5" fill="#151515"/>
<rect x="112.26" y="806.5" width="4.6" height="4.6" fill="#e0961f" stroke="#b07010" stroke-width="0.5"/>
<line x1="114.56" y1="807" x2="114.56" y2="805.7" stroke="#151515" stroke-width="1.2"/>
<rect x="112.96" y="805.3" width="3.2" height="1.5" fill="#151515"/>
<rect x="119.66" y="808.5" width="4.6" height="2.6" fill="#4e535d" stroke="#30333a" stroke-width="0.5"/>
<line x1="121.96" y1="809" x2="121.96" y2="807.7" stroke="#151515" stroke-width="1.2"/>
<rect x="120.36" y="807.3" width="3.2" height="1.5" fill="#151515"/>
<rect x="129.48" y="806.5" width="4.6" height="4.6" fill="#e0961f" stroke="#b07010" stroke-width="0.5"/>
<line x1="131.78" y1="807" x2="131.78" y2="805.7" stroke="#151515" stroke-width="1.2"/>
<rect x="130.18" y="805.3" width="3.2" height="1.5" fill="#151515"/>
<rect x="136.88" y="807.7" width="4.6" height="3.4" fill="#4e535d" stroke="#30333a" stroke-width="0.5"/>
<line x1="139.18" y1="808.2" x2="139.18" y2="806.9" stroke="#151515" stroke-width="1.2"/>
<rect x="137.58" y="806.5" width="3.2" height="1.5" fill="#151515"/>
<rect x="146.7" y="805.3" width="4.6" height="5.8" fill="#e0961f" stroke="#b07010" stroke-width="0.5"/>
<line x1="149" y1="805.8" x2="149" y2="804" stroke="#151515" stroke-width="1.2"/>
<rect x="147.4" y="803.6" width="3.2" height="1.5" fill="#151515"/>
<rect x="154.1" y="807.7" width="4.6" height="3.4" fill="#4e535d" stroke="#30333a" stroke-width="0.5"/>
<line x1="156.4" y1="808.2" x2="156.4" y2="806.9" stroke="#151515" stroke-width="1.2"/>
<rect x="154.8" y="806.5" width="3.2" height="1.5" fill="#151515"/>
<rect x="163.92" y="805.4" width="4.6" height="5.7" fill="#e0961f" stroke="#b07010" stroke-width="0.5"/>
<line x1="166.22" y1="805.9" x2="166.22" y2="804.6" stroke="#151515" stroke-width="1.2"/>
<rect x="164.62" y="804.2" width="3.2" height="1.5" fill="#151515"/>
<rect x="171.32" y="807.7" width="4.6" height="3.4" fill="#4e535d" stroke="#30333a" stroke-width="0.5"/>
<line x1="173.62" y1="808.2" x2="173.62" y2="806.9" stroke="#151515" stroke-width="1.2"/>
<rect x="172.02" y="806.5" width="3.2" height="1.5" fill="#151515"/>
<rect x="181.14" y="803.1" width="4.6" height="8" fill="#e0961f" stroke="#b07010" stroke-width="0.5"/>
<line x1="183.44" y1="803.6" x2="183.44" y2="801.9" stroke="#151515" stroke-width="1.2"/>
<rect x="181.84" y="801.5" width="3.2" height="1.5" fill="#151515"/>
<rect x="188.54" y="807.3" width="4.6" height="3.8" fill="#4e535d" stroke="#30333a" stroke-width="0.5"/>
<line x1="190.84" y1="807.8" x2="190.84" y2="806.5" stroke="#151515" stroke-width="1.2"/>
<rect x="189.24" y="806.1" width="3.2" height="1.5" fill="#151515"/>
<rect x="198.36" y="789" width="4.6" height="22.1" fill="#e0961f" stroke="#b07010" stroke-width="0.5"/>
<line x1="200.66" y1="789.5" x2="200.66" y2="785.8" stroke="#151515" stroke-width="1.2"/>
<rect x="199.06" y="785.4" width="3.2" height="1.5" fill="#151515"/>
<rect x="205.76" y="806" width="4.6" height="5.1" fill="#4e535d" stroke="#30333a" stroke-width="0.5"/>
<line x1="208.06" y1="806.5" x2="208.06" y2="805" stroke="#151515" stroke-width="1.2"/>
<rect x="206.46" y="804.6" width="3.2" height="1.5" fill="#151515"/>
<rect x="215.58" y="782.3" width="4.6" height="28.8" fill="#e0961f" stroke="#b07010" stroke-width="0.5"/>
<line x1="217.88" y1="782.8" x2="217.88" y2="774.6" stroke="#151515" stroke-width="1.2"/>
<rect x="216.28" y="774.2" width="3.2" height="1.5" fill="#151515"/>
<rect x="222.98" y="807.3" width="4.6" height="3.8" fill="#4e535d" stroke="#30333a" stroke-width="0.5"/>
<line x1="225.28" y1="807.8" x2="225.28" y2="806.5" stroke="#151515" stroke-width="1.2"/>
<rect x="223.68" y="806.1" width="3.2" height="1.5" fill="#151515"/>
<rect x="232.8" y="782.3" width="4.6" height="28.8" fill="#e0961f" stroke="#b07010" stroke-width="0.5"/>
<line x1="235.1" y1="782.8" x2="235.1" y2="779.6" stroke="#151515" stroke-width="1.2"/>
<rect x="233.5" y="779.2" width="3.2" height="1.5" fill="#151515"/>
<rect x="240.2" y="802.3" width="4.6" height="8.8" fill="#4e535d" stroke="#30333a" stroke-width="0.5"/>
<line x1="242.5" y1="802.8" x2="242.5" y2="798.5" stroke="#151515" stroke-width="1.2"/>
<rect x="240.9" y="798.1" width="3.2" height="1.5" fill="#151515"/>
<rect x="250.02" y="779.8" width="4.6" height="31.3" fill="#e0961f" stroke="#b07010" stroke-width="0.5"/>
<line x1="252.32" y1="780.3" x2="252.32" y2="777.5" stroke="#151515" stroke-width="1.2"/>
<rect x="250.72" y="777.1" width="3.2" height="1.5" fill="#151515"/>
<rect x="257.42" y="806.7" width="4.6" height="4.4" fill="#4e535d" stroke="#30333a" stroke-width="0.5"/>
<line x1="259.72" y1="807.2" x2="259.72" y2="805.9" stroke="#151515" stroke-width="1.2"/>
<rect x="258.12" y="805.5" width="3.2" height="1.5" fill="#151515"/>
<rect x="267.24" y="773.5" width="4.6" height="37.6" fill="#e0961f" stroke="#b07010" stroke-width="0.5"/>
<line x1="269.54" y1="774" x2="269.54" y2="769.6" stroke="#151515" stroke-width="1.2"/>
<rect x="267.94" y="769.2" width="3.2" height="1.5" fill="#151515"/>
<rect x="274.64" y="806.2" width="4.6" height="4.9" fill="#4e535d" stroke="#30333a" stroke-width="0.5"/>
<line x1="276.94" y1="806.7" x2="276.94" y2="805.4" stroke="#151515" stroke-width="1.2"/>
<rect x="275.34" y="805" width="3.2" height="1.5" fill="#151515"/>
<rect x="284.46" y="778.5" width="4.6" height="32.6" fill="#e0961f" stroke="#b07010" stroke-width="0.5"/>
<line x1="286.76" y1="779" x2="286.76" y2="770.2" stroke="#151515" stroke-width="1.2"/>
<rect x="285.16" y="769.8" width="3.2" height="1.5" fill="#151515"/>
<rect x="291.86" y="807.1" width="4.6" height="4" fill="#4e535d" stroke="#30333a" stroke-width="0.5"/>
<line x1="294.16" y1="807.6" x2="294.16" y2="806.3" stroke="#151515" stroke-width="1.2"/>
<rect x="292.56" y="805.9" width="3.2" height="1.5" fill="#151515"/>
<rect x="301.68" y="774.6" width="4.6" height="36.5" fill="#e0961f" stroke="#b07010" stroke-width="0.5"/>
<line x1="303.98" y1="775.1" x2="303.98" y2="766.3" stroke="#151515" stroke-width="1.2"/>
<rect x="302.38" y="765.9" width="3.2" height="1.5" fill="#151515"/>
<rect x="309.08" y="807.1" width="4.6" height="4" fill="#4e535d" stroke="#30333a" stroke-width="0.5"/>
<line x1="311.38" y1="807.6" x2="311.38" y2="806.3" stroke="#151515" stroke-width="1.2"/>
<rect x="309.78" y="805.9" width="3.2" height="1.5" fill="#151515"/>
<rect x="318.9" y="764" width="4.6" height="47.1" fill="#e0961f" stroke="#b07010" stroke-width="0.5"/>
<line x1="321.2" y1="764.5" x2="321.2" y2="758.8" stroke="#151515" stroke-width="1.2"/>
<rect x="319.6" y="758.4" width="3.2" height="1.5" fill="#151515"/>
<rect x="326.3" y="807.3" width="4.6" height="3.8" fill="#4e535d" stroke="#30333a" stroke-width="0.5"/>
<line x1="328.6" y1="807.8" x2="328.6" y2="806.5" stroke="#151515" stroke-width="1.2"/>
<rect x="327" y="806.1" width="3.2" height="1.5" fill="#151515"/>
<rect x="336.12" y="771.2" width="4.6" height="39.9" fill="#e0961f" stroke="#b07010" stroke-width="0.5"/>
<line x1="338.42" y1="771.7" x2="338.42" y2="767.3" stroke="#151515" stroke-width="1.2"/>
<rect x="336.82" y="766.9" width="3.2" height="1.5" fill="#151515"/>
<rect x="343.52" y="807.3" width="4.6" height="3.8" fill="#4e535d" stroke="#30333a" stroke-width="0.5"/>
<line x1="345.82" y1="807.8" x2="345.82" y2="806.5" stroke="#151515" stroke-width="1.2"/>
<rect x="344.22" y="806.1" width="3.2" height="1.5" fill="#151515"/>
<rect x="353.34" y="771.3" width="4.6" height="39.8" fill="#e0961f" stroke="#b07010" stroke-width="0.5"/>
<line x1="355.64" y1="771.8" x2="355.64" y2="764" stroke="#151515" stroke-width="1.2"/>
<rect x="354.04" y="763.6" width="3.2" height="1.5" fill="#151515"/>
<rect x="360.74" y="806.7" width="4.6" height="4.4" fill="#4e535d" stroke="#30333a" stroke-width="0.5"/>
<line x1="363.04" y1="807.2" x2="363.04" y2="805.9" stroke="#151515" stroke-width="1.2"/>
<rect x="361.44" y="805.5" width="3.2" height="1.5" fill="#151515"/>
<rect x="370.56" y="785.2" width="4.6" height="25.9" fill="#e0961f" stroke="#b07010" stroke-width="0.5"/>
<line x1="372.86" y1="785.7" x2="372.86" y2="780.4" stroke="#151515" stroke-width="1.2"/>
<rect x="371.26" y="780" width="3.2" height="1.5" fill="#151515"/>
<rect x="377.96" y="803.1" width="4.6" height="8" fill="#4e535d" stroke="#30333a" stroke-width="0.5"/>
<line x1="380.26" y1="803.6" x2="380.26" y2="800.6" stroke="#151515" stroke-width="1.2"/>
<rect x="378.66" y="800.2" width="3.2" height="1.5" fill="#151515"/>
<rect x="387.78" y="800" width="4.6" height="11.1" fill="#e0961f" stroke="#b07010" stroke-width="0.5"/>
<line x1="390.08" y1="800.5" x2="390.08" y2="797.3" stroke="#151515" stroke-width="1.2"/>
<rect x="388.48" y="796.9" width="3.2" height="1.5" fill="#151515"/>
<rect x="395.18" y="807.5" width="4.6" height="3.6" fill="#4e535d" stroke="#30333a" stroke-width="0.5"/>
<line x1="397.48" y1="808" x2="397.48" y2="806.7" stroke="#151515" stroke-width="1.2"/>
<rect x="395.88" y="806.3" width="3.2" height="1.5" fill="#151515"/>
<rect x="405" y="801.5" width="4.6" height="9.6" fill="#e0961f" stroke="#b07010" stroke-width="0.5"/>
<line x1="407.3" y1="802" x2="407.3" y2="800.4" stroke="#151515" stroke-width="1.2"/>
<rect x="405.7" y="800" width="3.2" height="1.5" fill="#151515"/>
<rect x="412.4" y="806.6" width="4.6" height="4.5" fill="#4e535d" stroke="#30333a" stroke-width="0.5"/>
<line x1="414.7" y1="807.1" x2="414.7" y2="805.8" stroke="#151515" stroke-width="1.2"/>
<rect x="413.1" y="805.4" width="3.2" height="1.5" fill="#151515"/>
<rect x="422.22" y="803.3" width="4.6" height="7.8" fill="#e0961f" stroke="#b07010" stroke-width="0.5"/>
<line x1="424.52" y1="803.8" x2="424.52" y2="802.5" stroke="#151515" stroke-width="1.2"/>
<rect x="422.92" y="802.1" width="3.2" height="1.5" fill="#151515"/>
<rect x="429.62" y="807.1" width="4.6" height="4" fill="#4e535d" stroke="#30333a" stroke-width="0.5"/>
<line x1="431.92" y1="807.6" x2="431.92" y2="806.3" stroke="#151515" stroke-width="1.2"/>
<rect x="430.32" y="805.9" width="3.2" height="1.5" fill="#151515"/>
<rect x="439.44" y="802.6" width="4.6" height="8.5" fill="#e0961f" stroke="#b07010" stroke-width="0.5"/>
<line x1="441.74" y1="803.1" x2="441.74" y2="801.5" stroke="#151515" stroke-width="1.2"/>
<rect x="440.14" y="801.1" width="3.2" height="1.5" fill="#151515"/>
<rect x="446.84" y="807.1" width="4.6" height="4" fill="#4e535d" stroke="#30333a" stroke-width="0.5"/>
<line x1="449.14" y1="807.6" x2="449.14" y2="806.3" stroke="#151515" stroke-width="1.2"/>
<rect x="447.54" y="805.9" width="3.2" height="1.5" fill="#151515"/>
<rect x="456.66" y="802.6" width="4.6" height="8.5" fill="#e0961f" stroke="#b07010" stroke-width="0.5"/>
<line x1="458.96" y1="803.1" x2="458.96" y2="801.1" stroke="#151515" stroke-width="1.2"/>
<rect x="457.36" y="800.7" width="3.2" height="1.5" fill="#151515"/>
<rect x="464.06" y="806.4" width="4.6" height="4.7" fill="#4e535d" stroke="#30333a" stroke-width="0.5"/>
<line x1="466.36" y1="806.9" x2="466.36" y2="805.6" stroke="#151515" stroke-width="1.2"/>
<rect x="464.76" y="805.2" width="3.2" height="1.5" fill="#151515"/>
<rect x="473.88" y="806" width="4.6" height="5.1" fill="#e0961f" stroke="#b07010" stroke-width="0.5"/>
<line x1="476.18" y1="806.5" x2="476.18" y2="804.9" stroke="#151515" stroke-width="1.2"/>
<rect x="474.58" y="804.5" width="3.2" height="1.5" fill="#151515"/>
<rect x="481.28" y="806" width="4.6" height="5.1" fill="#4e535d" stroke="#30333a" stroke-width="0.5"/>
<line x1="483.58" y1="806.5" x2="483.58" y2="805.2" stroke="#151515" stroke-width="1.2"/>
<rect x="481.98" y="804.8" width="3.2" height="1.5" fill="#151515"/>
<rect x="491.1" y="804.4" width="4.6" height="6.7" fill="#e0961f" stroke="#b07010" stroke-width="0.5"/>
<line x1="493.4" y1="804.9" x2="493.4" y2="803.3" stroke="#151515" stroke-width="1.2"/>
<rect x="491.8" y="802.9" width="3.2" height="1.5" fill="#151515"/>
<rect x="498.5" y="806.6" width="4.6" height="4.5" fill="#4e535d" stroke="#30333a" stroke-width="0.5"/>
<line x1="500.8" y1="807.1" x2="500.8" y2="805.8" stroke="#151515" stroke-width="1.2"/>
<rect x="499.2" y="805.4" width="3.2" height="1.5" fill="#151515"/>
<line x1="57.8" y1="742" x2="57.8" y2="811.9" stroke="#1a1a1a" stroke-width="1.8"/>
<line x1="53.4" y1="789.5" x2="57.8" y2="789.5" stroke="#1a1a1a" stroke-width="1.3"/>
<line x1="53.4" y1="767.9" x2="57.8" y2="767.9" stroke="#1a1a1a" stroke-width="1.3"/>
<line x1="53.4" y1="746.3" x2="57.8" y2="746.3" stroke="#1a1a1a" stroke-width="1.3"/>
<text x="49.2" y="813.1" font-size="6.35" text-anchor="end" fill="#1a1a1a" letter-spacing="0.25" style="stroke-width:0.2px">0</text>
<text x="49.2" y="791.5" font-size="6.35" text-anchor="end" fill="#1a1a1a" letter-spacing="0.25" style="stroke-width:0.2px">500</text>
<text x="49.2" y="769.9" font-size="6.35" text-anchor="end" fill="#1a1a1a" letter-spacing="0.25" style="stroke-width:0.2px">1000</text>
<text x="49.2" y="748.3" font-size="6.35" text-anchor="end" fill="#1a1a1a" letter-spacing="0.25" style="stroke-width:0.2px">1500</text>
<line x1="53.4" y1="811.1" x2="507.3" y2="811.1" stroke="#1a1a1a" stroke-width="1.7"/>
<line x1="66.6" y1="811.1" x2="66.6" y2="815.3" stroke="#1a1a1a" stroke-width="1.3"/>
<text x="68.7" y="820.8" font-size="6" text-anchor="end" transform="rotate(-90 68.7 820.8)" fill="#1a1a1a">Day1 Pre Apix</text>
<line x1="83.82" y1="811.1" x2="83.82" y2="815.3" stroke="#1a1a1a" stroke-width="1.3"/>
<text x="85.92" y="820.8" font-size="6" text-anchor="end" transform="rotate(-90 85.92 820.8)" fill="#1a1a1a">Day2</text>
<line x1="101.04" y1="811.1" x2="101.04" y2="815.3" stroke="#1a1a1a" stroke-width="1.3"/>
<text x="103.14" y="820.8" font-size="6" text-anchor="end" transform="rotate(-90 103.14 820.8)" fill="#1a1a1a">Day3</text>
<line x1="118.26" y1="811.1" x2="118.26" y2="815.3" stroke="#1a1a1a" stroke-width="1.3"/>
<text x="120.36" y="820.8" font-size="6" text-anchor="end" transform="rotate(-90 120.36 820.8)" fill="#1a1a1a">Day4</text>
<line x1="135.48" y1="811.1" x2="135.48" y2="815.3" stroke="#1a1a1a" stroke-width="1.3"/>
<text x="137.58" y="820.8" font-size="6" text-anchor="end" transform="rotate(-90 137.58 820.8)" fill="#1a1a1a">Day5</text>
<line x1="152.7" y1="811.1" x2="152.7" y2="815.3" stroke="#1a1a1a" stroke-width="1.3"/>
<text x="154.8" y="820.8" font-size="6" text-anchor="end" transform="rotate(-90 154.8 820.8)" fill="#1a1a1a">Day6-Pre Apix</text>
<line x1="169.92" y1="811.1" x2="169.92" y2="815.3" stroke="#1a1a1a" stroke-width="1.3"/>
<text x="172.02" y="820.8" font-size="6" text-anchor="end" transform="rotate(-90 172.02 820.8)" fill="#1a1a1a">Day6-3hr Apix</text>
<line x1="187.14" y1="811.1" x2="187.14" y2="815.3" stroke="#1a1a1a" stroke-width="1.3"/>
<text x="189.24" y="820.8" font-size="6" text-anchor="end" transform="rotate(-90 189.24 820.8)" fill="#1a1a1a">0.02</text>
<line x1="204.36" y1="811.1" x2="204.36" y2="815.3" stroke="#1a1a1a" stroke-width="1.3"/>
<text x="206.46" y="820.8" font-size="6" text-anchor="end" transform="rotate(-90 206.46 820.8)" fill="#1a1a1a">0.77</text>
<line x1="221.58" y1="811.1" x2="221.58" y2="815.3" stroke="#1a1a1a" stroke-width="1.3"/>
<text x="223.68" y="820.8" font-size="6" text-anchor="end" transform="rotate(-90 223.68 820.8)" fill="#1a1a1a">0.87</text>
<line x1="238.8" y1="811.1" x2="238.8" y2="815.3" stroke="#1a1a1a" stroke-width="1.3"/>
<text x="240.9" y="820.8" font-size="6" text-anchor="end" transform="rotate(-90 240.9 820.8)" fill="#1a1a1a">1.02</text>
<line x1="256.02" y1="811.1" x2="256.02" y2="815.3" stroke="#1a1a1a" stroke-width="1.3"/>
<text x="258.12" y="820.8" font-size="6" text-anchor="end" transform="rotate(-90 258.12 820.8)" fill="#1a1a1a">1.35</text>
<line x1="273.24" y1="811.1" x2="273.24" y2="815.3" stroke="#1a1a1a" stroke-width="1.3"/>
<text x="275.34" y="820.8" font-size="6" text-anchor="end" transform="rotate(-90 275.34 820.8)" fill="#1a1a1a">2.35</text>
<line x1="290.46" y1="811.1" x2="290.46" y2="815.3" stroke="#1a1a1a" stroke-width="1.3"/>
<text x="292.56" y="820.8" font-size="6" text-anchor="end" transform="rotate(-90 292.56 820.8)" fill="#1a1a1a">3.35</text>
<line x1="307.68" y1="811.1" x2="307.68" y2="815.3" stroke="#1a1a1a" stroke-width="1.3"/>
<text x="309.78" y="820.8" font-size="6" text-anchor="end" transform="rotate(-90 309.78 820.8)" fill="#1a1a1a">5.35</text>
<line x1="324.9" y1="811.1" x2="324.9" y2="815.3" stroke="#1a1a1a" stroke-width="1.3"/>
<text x="327" y="820.8" font-size="6" text-anchor="end" transform="rotate(-90 327 820.8)" fill="#1a1a1a">7.35</text>
<line x1="342.12" y1="811.1" x2="342.12" y2="815.3" stroke="#1a1a1a" stroke-width="1.3"/>
<text x="344.22" y="820.8" font-size="6" text-anchor="end" transform="rotate(-90 344.22 820.8)" fill="#1a1a1a">9.35</text>
<line x1="359.34" y1="811.1" x2="359.34" y2="815.3" stroke="#1a1a1a" stroke-width="1.3"/>
<text x="361.44" y="820.8" font-size="6" text-anchor="end" transform="rotate(-90 361.44 820.8)" fill="#1a1a1a">21</text>
<line x1="376.56" y1="811.1" x2="376.56" y2="815.3" stroke="#1a1a1a" stroke-width="1.3"/>
<text x="378.66" y="820.8" font-size="6" text-anchor="end" transform="rotate(-90 378.66 820.8)" fill="#1a1a1a">Day8</text>
<line x1="393.78" y1="811.1" x2="393.78" y2="815.3" stroke="#1a1a1a" stroke-width="1.3"/>
<text x="395.88" y="820.8" font-size="6" text-anchor="end" transform="rotate(-90 395.88 820.8)" fill="#1a1a1a">Day9</text>
<line x1="411" y1="811.1" x2="411" y2="815.3" stroke="#1a1a1a" stroke-width="1.3"/>
<text x="413.1" y="820.8" font-size="6" text-anchor="end" transform="rotate(-90 413.1 820.8)" fill="#1a1a1a">Day10</text>
<line x1="428.22" y1="811.1" x2="428.22" y2="815.3" stroke="#1a1a1a" stroke-width="1.3"/>
<text x="430.32" y="820.8" font-size="6" text-anchor="end" transform="rotate(-90 430.32 820.8)" fill="#1a1a1a">Day11</text>
<line x1="445.44" y1="811.1" x2="445.44" y2="815.3" stroke="#1a1a1a" stroke-width="1.3"/>
<text x="447.54" y="820.8" font-size="6" text-anchor="end" transform="rotate(-90 447.54 820.8)" fill="#1a1a1a">Day13</text>
<line x1="462.66" y1="811.1" x2="462.66" y2="815.3" stroke="#1a1a1a" stroke-width="1.3"/>
<text x="464.76" y="820.8" font-size="6" text-anchor="end" transform="rotate(-90 464.76 820.8)" fill="#1a1a1a">Day20</text>
<line x1="479.88" y1="811.1" x2="479.88" y2="815.3" stroke="#1a1a1a" stroke-width="1.3"/>
<text x="481.98" y="820.8" font-size="6" text-anchor="end" transform="rotate(-90 481.98 820.8)" fill="#1a1a1a">Day34</text>
<line x1="497.1" y1="811.1" x2="497.1" y2="815.3" stroke="#1a1a1a" stroke-width="1.3"/>
<text x="499.2" y="820.8" font-size="6" text-anchor="end" transform="rotate(-90 499.2 820.8)" fill="#1a1a1a">Day48</text>
<text x="25.3" y="777" font-size="7.4" text-anchor="middle" transform="rotate(-90 25.3 777)" fill="#1a1a1a" style="stroke-width:0.3px">F1+2 (pmol/L)</text>
<line x1="179" y1="837.7" x2="366.9" y2="837.7" stroke="#1a1a1a" stroke-width="1.2"/>
<text x="273.4" y="847.2" font-size="6.05" text-anchor="middle" fill="#1a1a1a">Post Andexanet (h)</text>
<text x="149.4" y="749.8" font-size="6.1" text-anchor="start" fill="#1a1a1a">End of Bolus</text>
<line x1="176.2" y1="750.8" x2="176.2" y2="757.4" stroke="#1a1a1a" stroke-width="1.4"/>
<path d="M173 755.4 L176.2 757.4 L179.4 755.4 L176.2 763.8 Z" fill="#1a1a1a"/>
<text x="196.9" y="749.8" font-size="6.1" text-anchor="start" fill="#1a1a1a">End of 2nd Bolus</text>
<line x1="211.8" y1="750.8" x2="211.8" y2="757.4" stroke="#1a1a1a" stroke-width="1.4"/>
<path d="M208.6 755.4 L211.8 757.4 L215 755.4 L211.8 763.8 Z" fill="#1a1a1a"/>
<rect x="375.2" y="743.4" width="10.3" height="4" fill="#e0961f" stroke="#b07010" stroke-width="0.4"/>
<text x="390.2" y="747.6" font-size="6" text-anchor="start" fill="#1a1a1a" letter-spacing="0.2" style="stroke-width:0.05px">420 mg/180 mg [Cohort 5] (N=6)</text>
<rect x="375.2" y="755.7" width="10.3" height="4" fill="#4e535d" stroke="#30333a" stroke-width="0.4"/>
<text x="390.2" y="759.9" font-size="6" text-anchor="start" fill="#1a1a1a" letter-spacing="0.2" style="stroke-width:0.05px">Placebo [Cohort 5] (N=3)</text>
<line x1="57.8" y1="931.4" x2="506.6" y2="931.4" stroke="#707070" stroke-width="1.1" stroke-dasharray="3.4,0.45"/>
<rect x="60.7" y="936.7" width="4.4" height="5.6" fill="#2f6a52" stroke="#1b4533" stroke-width="0.5"/>
<line x1="62.9" y1="937.2" x2="62.9" y2="935.9" stroke="#151515" stroke-width="1.2"/>
<rect x="61.3" y="935.5" width="3.2" height="1.5" fill="#151515"/>
<rect x="67.9" y="934.6" width="4.4" height="7.7" fill="#4e535d" stroke="#30333a" stroke-width="0.5"/>
<line x1="70.1" y1="935.1" x2="70.1" y2="933.8" stroke="#151515" stroke-width="1.2"/>
<rect x="68.5" y="933.4" width="3.2" height="1.5" fill="#151515"/>
<rect x="77.34" y="938.5" width="4.4" height="3.8" fill="#2f6a52" stroke="#1b4533" stroke-width="0.5"/>
<line x1="79.54" y1="939" x2="79.54" y2="937.7" stroke="#151515" stroke-width="1.2"/>
<rect x="77.94" y="937.3" width="3.2" height="1.5" fill="#151515"/>
<rect x="84.54" y="938.5" width="4.4" height="3.8" fill="#4e535d" stroke="#30333a" stroke-width="0.5"/>
<line x1="86.74" y1="939" x2="86.74" y2="937.7" stroke="#151515" stroke-width="1.2"/>
<rect x="85.14" y="937.3" width="3.2" height="1.5" fill="#151515"/>
<rect x="93.98" y="938.5" width="4.4" height="3.8" fill="#2f6a52" stroke="#1b4533" stroke-width="0.5"/>
<line x1="96.18" y1="939" x2="96.18" y2="937.7" stroke="#151515" stroke-width="1.2"/>
<rect x="94.58" y="937.3" width="3.2" height="1.5" fill="#151515"/>
<rect x="101.18" y="937.7" width="4.4" height="4.6" fill="#4e535d" stroke="#30333a" stroke-width="0.5"/>
<line x1="103.38" y1="938.2" x2="103.38" y2="936.9" stroke="#151515" stroke-width="1.2"/>
<rect x="101.78" y="936.5" width="3.2" height="1.5" fill="#151515"/>
<rect x="110.62" y="938.5" width="4.4" height="3.8" fill="#2f6a52" stroke="#1b4533" stroke-width="0.5"/>
<line x1="112.82" y1="939" x2="112.82" y2="937.7" stroke="#151515" stroke-width="1.2"/>
<rect x="111.22" y="937.3" width="3.2" height="1.5" fill="#151515"/>
<rect x="117.82" y="937.7" width="4.4" height="4.6" fill="#4e535d" stroke="#30333a" stroke-width="0.5"/>
<line x1="120.02" y1="938.2" x2="120.02" y2="936.9" stroke="#151515" stroke-width="1.2"/>
<rect x="118.42" y="936.5" width="3.2" height="1.5" fill="#151515"/>
<rect x="127.26" y="938.5" width="4.4" height="3.8" fill="#2f6a52" stroke="#1b4533" stroke-width="0.5"/>
<line x1="129.46" y1="939" x2="129.46" y2="937.7" stroke="#151515" stroke-width="1.2"/>
<rect x="127.86" y="937.3" width="3.2" height="1.5" fill="#151515"/>
<rect x="134.46" y="937.3" width="4.4" height="5" fill="#4e535d" stroke="#30333a" stroke-width="0.5"/>
<line x1="136.66" y1="937.8" x2="136.66" y2="936.5" stroke="#151515" stroke-width="1.2"/>
<rect x="135.06" y="936.1" width="3.2" height="1.5" fill="#151515"/>
<rect x="143.9" y="938.4" width="4.4" height="3.9" fill="#2f6a52" stroke="#1b4533" stroke-width="0.5"/>
<line x1="146.1" y1="938.9" x2="146.1" y2="937.6" stroke="#151515" stroke-width="1.2"/>
<rect x="144.5" y="937.2" width="3.2" height="1.5" fill="#151515"/>
<rect x="151.1" y="937.3" width="4.4" height="5" fill="#4e535d" stroke="#30333a" stroke-width="0.5"/>
<line x1="153.3" y1="937.8" x2="153.3" y2="936.5" stroke="#151515" stroke-width="1.2"/>
<rect x="151.7" y="936.1" width="3.2" height="1.5" fill="#151515"/>
<rect x="160.54" y="938.7" width="4.4" height="3.6" fill="#2f6a52" stroke="#1b4533" stroke-width="0.5"/>
<line x1="162.74" y1="939.2" x2="162.74" y2="937.9" stroke="#151515" stroke-width="1.2"/>
<rect x="161.14" y="937.5" width="3.2" height="1.5" fill="#151515"/>
<rect x="167.74" y="938.7" width="4.4" height="3.6" fill="#4e535d" stroke="#30333a" stroke-width="0.5"/>
<line x1="169.94" y1="939.2" x2="169.94" y2="937.9" stroke="#151515" stroke-width="1.2"/>
<rect x="168.34" y="937.5" width="3.2" height="1.5" fill="#151515"/>
<rect x="177.18" y="936.9" width="4.4" height="5.4" fill="#2f6a52" stroke="#1b4533" stroke-width="0.5"/>
<line x1="179.38" y1="937.4" x2="179.38" y2="936.1" stroke="#151515" stroke-width="1.2"/>
<rect x="177.78" y="935.7" width="3.2" height="1.5" fill="#151515"/>
<rect x="184.38" y="938.7" width="4.4" height="3.6" fill="#4e535d" stroke="#30333a" stroke-width="0.5"/>
<line x1="186.58" y1="939.2" x2="186.58" y2="937.9" stroke="#151515" stroke-width="1.2"/>
<rect x="184.98" y="937.5" width="3.2" height="1.5" fill="#151515"/>
<rect x="193.82" y="931.2" width="4.4" height="11.1" fill="#2f6a52" stroke="#1b4533" stroke-width="0.5"/>
<line x1="196.02" y1="931.7" x2="196.02" y2="929.5" stroke="#151515" stroke-width="1.2"/>
<rect x="194.42" y="929.1" width="3.2" height="1.5" fill="#151515"/>
<rect x="201.02" y="937.9" width="4.4" height="4.4" fill="#4e535d" stroke="#30333a" stroke-width="0.5"/>
<line x1="203.22" y1="938.4" x2="203.22" y2="937.1" stroke="#151515" stroke-width="1.2"/>
<rect x="201.62" y="936.7" width="3.2" height="1.5" fill="#151515"/>
<rect x="210.46" y="906.9" width="4.4" height="35.4" fill="#2f6a52" stroke="#1b4533" stroke-width="0.5"/>
<line x1="212.66" y1="907.4" x2="212.66" y2="904.6" stroke="#151515" stroke-width="1.2"/>
<rect x="211.06" y="904.2" width="3.2" height="1.5" fill="#151515"/>
<rect x="217.66" y="938.7" width="4.4" height="3.6" fill="#4e535d" stroke="#30333a" stroke-width="0.5"/>
<line x1="219.86" y1="939.2" x2="219.86" y2="937.9" stroke="#151515" stroke-width="1.2"/>
<rect x="218.26" y="937.5" width="3.2" height="1.5" fill="#151515"/>
<rect x="227.1" y="905.1" width="4.4" height="37.2" fill="#2f6a52" stroke="#1b4533" stroke-width="0.5"/>
<line x1="229.3" y1="905.6" x2="229.3" y2="902.3" stroke="#151515" stroke-width="1.2"/>
<rect x="227.7" y="901.9" width="3.2" height="1.5" fill="#151515"/>
<rect x="234.3" y="936.6" width="4.4" height="5.7" fill="#4e535d" stroke="#30333a" stroke-width="0.5"/>
<line x1="236.5" y1="937.1" x2="236.5" y2="934.4" stroke="#151515" stroke-width="1.2"/>
<rect x="234.9" y="934" width="3.2" height="1.5" fill="#151515"/>
<rect x="243.74" y="903.3" width="4.4" height="39" fill="#2f6a52" stroke="#1b4533" stroke-width="0.5"/>
<line x1="245.94" y1="903.8" x2="245.94" y2="901" stroke="#151515" stroke-width="1.2"/>
<rect x="244.34" y="900.6" width="3.2" height="1.5" fill="#151515"/>
<rect x="250.94" y="936.5" width="4.4" height="5.8" fill="#4e535d" stroke="#30333a" stroke-width="0.5"/>
<line x1="253.14" y1="937" x2="253.14" y2="935.7" stroke="#151515" stroke-width="1.2"/>
<rect x="251.54" y="935.3" width="3.2" height="1.5" fill="#151515"/>
<rect x="260.38" y="897.5" width="4.4" height="44.8" fill="#2f6a52" stroke="#1b4533" stroke-width="0.5"/>
<line x1="262.58" y1="898" x2="262.58" y2="896" stroke="#151515" stroke-width="1.2"/>
<rect x="260.98" y="895.6" width="3.2" height="1.5" fill="#151515"/>
<rect x="267.58" y="937.5" width="4.4" height="4.8" fill="#4e535d" stroke="#30333a" stroke-width="0.5"/>
<line x1="269.78" y1="938" x2="269.78" y2="936.7" stroke="#151515" stroke-width="1.2"/>
<rect x="268.18" y="936.3" width="3.2" height="1.5" fill="#151515"/>
<rect x="277.02" y="896" width="4.4" height="46.3" fill="#2f6a52" stroke="#1b4533" stroke-width="0.5"/>
<line x1="279.22" y1="896.5" x2="279.22" y2="893.1" stroke="#151515" stroke-width="1.2"/>
<rect x="277.62" y="892.7" width="3.2" height="1.5" fill="#151515"/>
<rect x="284.22" y="936.5" width="4.4" height="5.8" fill="#4e535d" stroke="#30333a" stroke-width="0.5"/>
<line x1="286.42" y1="937" x2="286.42" y2="933" stroke="#151515" stroke-width="1.2"/>
<rect x="284.82" y="932.6" width="3.2" height="1.5" fill="#151515"/>
<rect x="293.66" y="891.7" width="4.4" height="50.6" fill="#2f6a52" stroke="#1b4533" stroke-width="0.5"/>
<line x1="295.86" y1="892.2" x2="295.86" y2="887.5" stroke="#151515" stroke-width="1.2"/>
<rect x="294.26" y="887.1" width="3.2" height="1.5" fill="#151515"/>
<rect x="300.86" y="938.5" width="4.4" height="3.8" fill="#4e535d" stroke="#30333a" stroke-width="0.5"/>
<line x1="303.06" y1="939" x2="303.06" y2="937.7" stroke="#151515" stroke-width="1.2"/>
<rect x="301.46" y="937.3" width="3.2" height="1.5" fill="#151515"/>
<rect x="310.3" y="888.5" width="4.4" height="53.8" fill="#2f6a52" stroke="#1b4533" stroke-width="0.5"/>
<line x1="312.5" y1="889" x2="312.5" y2="881.5" stroke="#151515" stroke-width="1.2"/>
<rect x="310.9" y="881.1" width="3.2" height="1.5" fill="#151515"/>
<rect x="317.5" y="938.5" width="4.4" height="3.8" fill="#4e535d" stroke="#30333a" stroke-width="0.5"/>
<line x1="319.7" y1="939" x2="319.7" y2="937.7" stroke="#151515" stroke-width="1.2"/>
<rect x="318.1" y="937.3" width="3.2" height="1.5" fill="#151515"/>
<rect x="326.94" y="892.3" width="4.4" height="50" fill="#2f6a52" stroke="#1b4533" stroke-width="0.5"/>
<line x1="329.14" y1="892.8" x2="329.14" y2="885.4" stroke="#151515" stroke-width="1.2"/>
<rect x="327.54" y="885" width="3.2" height="1.5" fill="#151515"/>
<rect x="334.14" y="938.5" width="4.4" height="3.8" fill="#4e535d" stroke="#30333a" stroke-width="0.5"/>
<line x1="336.34" y1="939" x2="336.34" y2="937.7" stroke="#151515" stroke-width="1.2"/>
<rect x="334.74" y="937.3" width="3.2" height="1.5" fill="#151515"/>
<rect x="343.58" y="895.2" width="4.4" height="47.1" fill="#2f6a52" stroke="#1b4533" stroke-width="0.5"/>
<line x1="345.78" y1="895.7" x2="345.78" y2="888.5" stroke="#151515" stroke-width="1.2"/>
<rect x="344.18" y="888.1" width="3.2" height="1.5" fill="#151515"/>
<rect x="350.78" y="937.5" width="4.4" height="4.8" fill="#4e535d" stroke="#30333a" stroke-width="0.5"/>
<line x1="352.98" y1="938" x2="352.98" y2="936.7" stroke="#151515" stroke-width="1.2"/>
<rect x="351.38" y="936.3" width="3.2" height="1.5" fill="#151515"/>
<rect x="360.22" y="886" width="4.4" height="56.3" fill="#2f6a52" stroke="#1b4533" stroke-width="0.5"/>
<line x1="362.42" y1="886.5" x2="362.42" y2="875.8" stroke="#151515" stroke-width="1.2"/>
<rect x="360.82" y="875.4" width="3.2" height="1.5" fill="#151515"/>
<rect x="367.42" y="936.2" width="4.4" height="6.1" fill="#4e535d" stroke="#30333a" stroke-width="0.5"/>
<line x1="369.62" y1="936.7" x2="369.62" y2="935.4" stroke="#151515" stroke-width="1.2"/>
<rect x="368.02" y="935" width="3.2" height="1.5" fill="#151515"/>
<rect x="376.86" y="911.9" width="4.4" height="30.4" fill="#2f6a52" stroke="#1b4533" stroke-width="0.5"/>
<line x1="379.06" y1="912.4" x2="379.06" y2="907.1" stroke="#151515" stroke-width="1.2"/>
<rect x="377.46" y="906.7" width="3.2" height="1.5" fill="#151515"/>
<rect x="384.06" y="935" width="4.4" height="7.3" fill="#4e535d" stroke="#30333a" stroke-width="0.5"/>
<line x1="386.26" y1="935.5" x2="386.26" y2="933.5" stroke="#151515" stroke-width="1.2"/>
<rect x="384.66" y="933.1" width="3.2" height="1.5" fill="#151515"/>
<rect x="393.5" y="928.2" width="4.4" height="14.1" fill="#2f6a52" stroke="#1b4533" stroke-width="0.5"/>
<line x1="395.7" y1="928.7" x2="395.7" y2="926.5" stroke="#151515" stroke-width="1.2"/>
<rect x="394.1" y="926.1" width="3.2" height="1.5" fill="#151515"/>
<rect x="400.7" y="936.4" width="4.4" height="5.9" fill="#4e535d" stroke="#30333a" stroke-width="0.5"/>
<line x1="402.9" y1="936.9" x2="402.9" y2="935.6" stroke="#151515" stroke-width="1.2"/>
<rect x="401.3" y="935.2" width="3.2" height="1.5" fill="#151515"/>
<rect x="410.14" y="933.8" width="4.4" height="8.5" fill="#2f6a52" stroke="#1b4533" stroke-width="0.5"/>
<line x1="412.34" y1="934.3" x2="412.34" y2="933" stroke="#151515" stroke-width="1.2"/>
<rect x="410.74" y="932.6" width="3.2" height="1.5" fill="#151515"/>
<rect x="417.34" y="936.2" width="4.4" height="6.1" fill="#4e535d" stroke="#30333a" stroke-width="0.5"/>
<line x1="419.54" y1="936.7" x2="419.54" y2="935.4" stroke="#151515" stroke-width="1.2"/>
<rect x="417.94" y="935" width="3.2" height="1.5" fill="#151515"/>
<rect x="426.78" y="936.6" width="4.4" height="5.7" fill="#2f6a52" stroke="#1b4533" stroke-width="0.5"/>
<line x1="428.98" y1="937.1" x2="428.98" y2="935.8" stroke="#151515" stroke-width="1.2"/>
<rect x="427.38" y="935.4" width="3.2" height="1.5" fill="#151515"/>
<rect x="433.98" y="935" width="4.4" height="7.3" fill="#4e535d" stroke="#30333a" stroke-width="0.5"/>
<line x1="436.18" y1="935.5" x2="436.18" y2="934.2" stroke="#151515" stroke-width="1.2"/>
<rect x="434.58" y="933.8" width="3.2" height="1.5" fill="#151515"/>
<rect x="443.42" y="937.3" width="4.4" height="5" fill="#2f6a52" stroke="#1b4533" stroke-width="0.5"/>
<line x1="445.62" y1="937.8" x2="445.62" y2="936.5" stroke="#151515" stroke-width="1.2"/>
<rect x="444.02" y="936.1" width="3.2" height="1.5" fill="#151515"/>
<rect x="450.62" y="935.5" width="4.4" height="6.8" fill="#4e535d" stroke="#30333a" stroke-width="0.5"/>
<line x1="452.82" y1="936" x2="452.82" y2="934.5" stroke="#151515" stroke-width="1.2"/>
<rect x="451.22" y="934.1" width="3.2" height="1.5" fill="#151515"/>
<rect x="460.06" y="937.3" width="4.4" height="5" fill="#2f6a52" stroke="#1b4533" stroke-width="0.5"/>
<line x1="462.26" y1="937.8" x2="462.26" y2="936.5" stroke="#151515" stroke-width="1.2"/>
<rect x="460.66" y="936.1" width="3.2" height="1.5" fill="#151515"/>
<rect x="467.26" y="935" width="4.4" height="7.3" fill="#4e535d" stroke="#30333a" stroke-width="0.5"/>
<line x1="469.46" y1="935.5" x2="469.46" y2="934" stroke="#151515" stroke-width="1.2"/>
<rect x="467.86" y="933.6" width="3.2" height="1.5" fill="#151515"/>
<rect x="476.7" y="937.3" width="4.4" height="5" fill="#2f6a52" stroke="#1b4533" stroke-width="0.5"/>
<line x1="478.9" y1="937.8" x2="478.9" y2="936.5" stroke="#151515" stroke-width="1.2"/>
<rect x="477.3" y="936.1" width="3.2" height="1.5" fill="#151515"/>
<rect x="483.9" y="935.5" width="4.4" height="6.8" fill="#4e535d" stroke="#30333a" stroke-width="0.5"/>
<line x1="486.1" y1="936" x2="486.1" y2="934.7" stroke="#151515" stroke-width="1.2"/>
<rect x="484.5" y="934.3" width="3.2" height="1.5" fill="#151515"/>
<rect x="493.34" y="936.2" width="4.4" height="6.1" fill="#2f6a52" stroke="#1b4533" stroke-width="0.5"/>
<line x1="495.54" y1="936.7" x2="495.54" y2="935.4" stroke="#151515" stroke-width="1.2"/>
<rect x="493.94" y="935" width="3.2" height="1.5" fill="#151515"/>
<rect x="500.54" y="932.7" width="4.4" height="9.6" fill="#4e535d" stroke="#30333a" stroke-width="0.5"/>
<line x1="502.74" y1="933.2" x2="502.74" y2="931.1" stroke="#151515" stroke-width="1.2"/>
<rect x="501.14" y="930.7" width="3.2" height="1.5" fill="#151515"/>
<line x1="57.8" y1="872.4" x2="57.8" y2="943.1" stroke="#1a1a1a" stroke-width="1.8"/>
<line x1="53.4" y1="920.33" x2="57.8" y2="920.33" stroke="#1a1a1a" stroke-width="1.3"/>
<line x1="53.4" y1="898.37" x2="57.8" y2="898.37" stroke="#1a1a1a" stroke-width="1.3"/>
<line x1="53.4" y1="876.4" x2="57.8" y2="876.4" stroke="#1a1a1a" stroke-width="1.3"/>
<text x="49.2" y="944.3" font-size="6.35" text-anchor="end" fill="#1a1a1a" letter-spacing="0.25" style="stroke-width:0.2px">0</text>
<text x="49.2" y="922.33" font-size="6.35" text-anchor="end" fill="#1a1a1a" letter-spacing="0.25" style="stroke-width:0.2px">500</text>
<text x="49.2" y="900.37" font-size="6.35" text-anchor="end" fill="#1a1a1a" letter-spacing="0.25" style="stroke-width:0.2px">1000</text>
<text x="49.2" y="878.4" font-size="6.35" text-anchor="end" fill="#1a1a1a" letter-spacing="0.25" style="stroke-width:0.2px">1500</text>
<line x1="53.4" y1="942.3" x2="508.9" y2="942.3" stroke="#1a1a1a" stroke-width="1.7"/>
<line x1="66.5" y1="942.3" x2="66.5" y2="946.5" stroke="#1a1a1a" stroke-width="1.3"/>
<text x="68.6" y="952" font-size="6" text-anchor="end" transform="rotate(-90 68.6 952)" fill="#1a1a1a">Day1 Pre Apix</text>
<line x1="83.14" y1="942.3" x2="83.14" y2="946.5" stroke="#1a1a1a" stroke-width="1.3"/>
<text x="85.24" y="952" font-size="6" text-anchor="end" transform="rotate(-90 85.24 952)" fill="#1a1a1a">Day2</text>
<line x1="99.78" y1="942.3" x2="99.78" y2="946.5" stroke="#1a1a1a" stroke-width="1.3"/>
<text x="101.88" y="952" font-size="6" text-anchor="end" transform="rotate(-90 101.88 952)" fill="#1a1a1a">Day3</text>
<line x1="116.42" y1="942.3" x2="116.42" y2="946.5" stroke="#1a1a1a" stroke-width="1.3"/>
<text x="118.52" y="952" font-size="6" text-anchor="end" transform="rotate(-90 118.52 952)" fill="#1a1a1a">Day4</text>
<line x1="133.06" y1="942.3" x2="133.06" y2="946.5" stroke="#1a1a1a" stroke-width="1.3"/>
<text x="135.16" y="952" font-size="6" text-anchor="end" transform="rotate(-90 135.16 952)" fill="#1a1a1a">Day5</text>
<line x1="149.7" y1="942.3" x2="149.7" y2="946.5" stroke="#1a1a1a" stroke-width="1.3"/>
<text x="151.8" y="952" font-size="6" text-anchor="end" transform="rotate(-90 151.8 952)" fill="#1a1a1a">Day6-Pre Apix</text>
<line x1="166.34" y1="942.3" x2="166.34" y2="946.5" stroke="#1a1a1a" stroke-width="1.3"/>
<text x="168.44" y="952" font-size="6" text-anchor="end" transform="rotate(-90 168.44 952)" fill="#1a1a1a">Day6-3hr Apix</text>
<line x1="182.98" y1="942.3" x2="182.98" y2="946.5" stroke="#1a1a1a" stroke-width="1.3"/>
<text x="185.08" y="952" font-size="6" text-anchor="end" transform="rotate(-90 185.08 952)" fill="#1a1a1a">0.03</text>
<line x1="199.62" y1="942.3" x2="199.62" y2="946.5" stroke="#1a1a1a" stroke-width="1.3"/>
<text x="201.72" y="952" font-size="6" text-anchor="end" transform="rotate(-90 201.72 952)" fill="#1a1a1a">0.25</text>
<line x1="216.26" y1="942.3" x2="216.26" y2="946.5" stroke="#1a1a1a" stroke-width="1.3"/>
<text x="218.36" y="952" font-size="6" text-anchor="end" transform="rotate(-90 218.36 952)" fill="#1a1a1a">1.33</text>
<line x1="232.9" y1="942.3" x2="232.9" y2="946.5" stroke="#1a1a1a" stroke-width="1.3"/>
<text x="235" y="952" font-size="6" text-anchor="end" transform="rotate(-90 235 952)" fill="#1a1a1a">2.03</text>
<line x1="249.54" y1="942.3" x2="249.54" y2="946.5" stroke="#1a1a1a" stroke-width="1.3"/>
<text x="251.64" y="952" font-size="6" text-anchor="end" transform="rotate(-90 251.64 952)" fill="#1a1a1a">2.17</text>
<line x1="266.18" y1="942.3" x2="266.18" y2="946.5" stroke="#1a1a1a" stroke-width="1.3"/>
<text x="268.28" y="952" font-size="6" text-anchor="end" transform="rotate(-90 268.28 952)" fill="#1a1a1a">2.5</text>
<line x1="282.82" y1="942.3" x2="282.82" y2="946.5" stroke="#1a1a1a" stroke-width="1.3"/>
<text x="284.92" y="952" font-size="6" text-anchor="end" transform="rotate(-90 284.92 952)" fill="#1a1a1a">3.5</text>
<line x1="299.46" y1="942.3" x2="299.46" y2="946.5" stroke="#1a1a1a" stroke-width="1.3"/>
<text x="301.56" y="952" font-size="6" text-anchor="end" transform="rotate(-90 301.56 952)" fill="#1a1a1a">4.5</text>
<line x1="316.1" y1="942.3" x2="316.1" y2="946.5" stroke="#1a1a1a" stroke-width="1.3"/>
<text x="318.2" y="952" font-size="6" text-anchor="end" transform="rotate(-90 318.2 952)" fill="#1a1a1a">6.5</text>
<line x1="332.74" y1="942.3" x2="332.74" y2="946.5" stroke="#1a1a1a" stroke-width="1.3"/>
<text x="334.84" y="952" font-size="6" text-anchor="end" transform="rotate(-90 334.84 952)" fill="#1a1a1a">8.5</text>
<line x1="349.38" y1="942.3" x2="349.38" y2="946.5" stroke="#1a1a1a" stroke-width="1.3"/>
<text x="351.48" y="952" font-size="6" text-anchor="end" transform="rotate(-90 351.48 952)" fill="#1a1a1a">10.5</text>
<line x1="366.02" y1="942.3" x2="366.02" y2="946.5" stroke="#1a1a1a" stroke-width="1.3"/>
<text x="368.12" y="952" font-size="6" text-anchor="end" transform="rotate(-90 368.12 952)" fill="#1a1a1a">21</text>
<line x1="382.66" y1="942.3" x2="382.66" y2="946.5" stroke="#1a1a1a" stroke-width="1.3"/>
<text x="384.76" y="952" font-size="6" text-anchor="end" transform="rotate(-90 384.76 952)" fill="#1a1a1a">Day8</text>
<line x1="399.3" y1="942.3" x2="399.3" y2="946.5" stroke="#1a1a1a" stroke-width="1.3"/>
<text x="401.4" y="952" font-size="6" text-anchor="end" transform="rotate(-90 401.4 952)" fill="#1a1a1a">Day9</text>
<line x1="415.94" y1="942.3" x2="415.94" y2="946.5" stroke="#1a1a1a" stroke-width="1.3"/>
<text x="418.04" y="952" font-size="6" text-anchor="end" transform="rotate(-90 418.04 952)" fill="#1a1a1a">Day10</text>
<line x1="432.58" y1="942.3" x2="432.58" y2="946.5" stroke="#1a1a1a" stroke-width="1.3"/>
<text x="434.68" y="952" font-size="6" text-anchor="end" transform="rotate(-90 434.68 952)" fill="#1a1a1a">Day11</text>
<line x1="449.22" y1="942.3" x2="449.22" y2="946.5" stroke="#1a1a1a" stroke-width="1.3"/>
<text x="451.32" y="952" font-size="6" text-anchor="end" transform="rotate(-90 451.32 952)" fill="#1a1a1a">Day13</text>
<line x1="465.86" y1="942.3" x2="465.86" y2="946.5" stroke="#1a1a1a" stroke-width="1.3"/>
<text x="467.96" y="952" font-size="6" text-anchor="end" transform="rotate(-90 467.96 952)" fill="#1a1a1a">Day20</text>
<line x1="482.5" y1="942.3" x2="482.5" y2="946.5" stroke="#1a1a1a" stroke-width="1.3"/>
<text x="484.6" y="952" font-size="6" text-anchor="end" transform="rotate(-90 484.6 952)" fill="#1a1a1a">Day34</text>
<line x1="499.14" y1="942.3" x2="499.14" y2="946.5" stroke="#1a1a1a" stroke-width="1.3"/>
<text x="501.24" y="952" font-size="6" text-anchor="end" transform="rotate(-90 501.24 952)" fill="#1a1a1a">Day48</text>
<text x="25.3" y="908" font-size="7.4" text-anchor="middle" transform="rotate(-90 25.3 908)" fill="#1a1a1a" style="stroke-width:0.3px">F1+2 (pmol/L)</text>
<line x1="181.9" y1="968.9" x2="371.1" y2="968.9" stroke="#1a1a1a" stroke-width="1.2"/>
<text x="277" y="978.8" font-size="6.05" text-anchor="middle" fill="#1a1a1a">Post Andexanet (h)</text>
<text x="155.9" y="879.8" font-size="6.1" text-anchor="start" fill="#1a1a1a">End of Bolus</text>
<line x1="177.2" y1="880.8" x2="177.2" y2="888" stroke="#1a1a1a" stroke-width="1.4"/>
<path d="M174 886 L177.2 888 L180.4 886 L177.2 894.4 Z" fill="#1a1a1a"/>
<text x="211.7" y="879.8" font-size="6.1" text-anchor="start" fill="#1a1a1a">End of Infusion</text>
<line x1="225" y1="880.8" x2="225" y2="888" stroke="#1a1a1a" stroke-width="1.4"/>
<path d="M221.8 886 L225 888 L228.2 886 L225 894.4 Z" fill="#1a1a1a"/>
<rect x="384.2" y="873.8" width="10.3" height="4" fill="#2f6a52" stroke="#1b4533" stroke-width="0.4"/>
<text x="399" y="878" font-size="6" text-anchor="start" fill="#1a1a1a" letter-spacing="0.2" style="stroke-width:0.05px">420 mg/4 mg x 2 h [Cohort 6] (N=6)</text>
<rect x="384.2" y="886.3" width="10.3" height="4" fill="#4e535d" stroke="#30333a" stroke-width="0.4"/>
<text x="399" y="890.5" font-size="6" text-anchor="start" fill="#1a1a1a" letter-spacing="0.2" style="stroke-width:0.05px">Placebo [Cohort 6] (N=3)</text>
<rect x="1" y="1" width="518" height="999" fill="none" stroke="#000" stroke-width="2"/>
</svg></div></body></html>
